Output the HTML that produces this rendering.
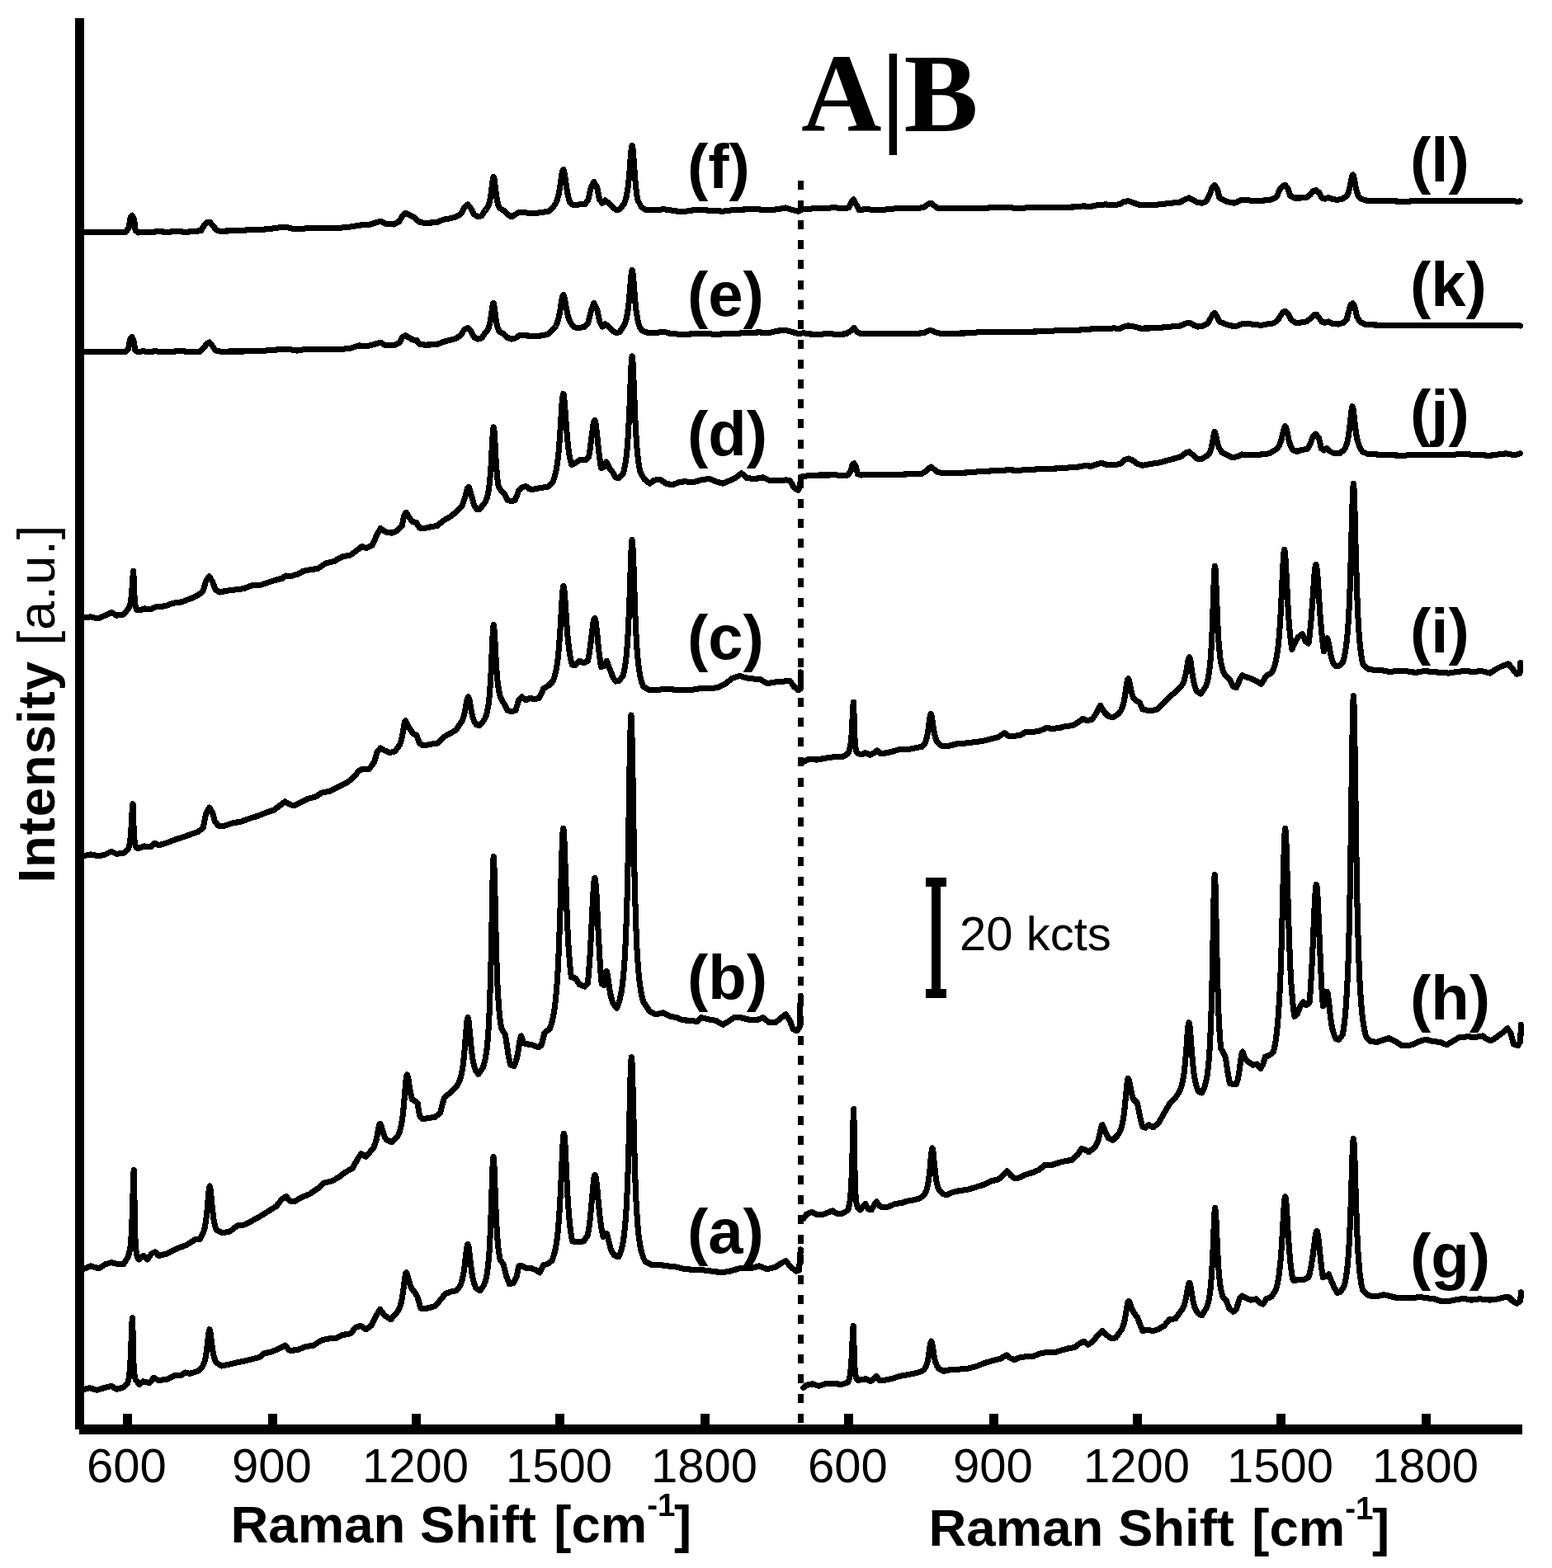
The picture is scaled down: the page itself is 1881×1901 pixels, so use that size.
<!DOCTYPE html>
<html lang="en">
<head>
<meta charset="utf-8">
<title>Raman spectra A|B</title>
<style>
html,body{margin:0;padding:0;background:#fff;}
body{width:1881px;height:1901px;overflow:hidden;position:relative;}
svg{position:absolute;left:0;top:0;display:block;}
text{fill:#000;}
.tk{font-family:"Liberation Sans",Arial,Helvetica,sans-serif;font-size:58px;text-anchor:middle;}
.ax{font-family:"Liberation Sans",Arial,Helvetica,sans-serif;font-size:63.5px;font-weight:bold;}
.lb{font-family:"Liberation Sans",Arial,Helvetica,sans-serif;font-size:76px;font-weight:bold;}
.tt{font-family:"Liberation Serif","Times New Roman",Times,serif;font-size:135px;font-weight:bold;}
.sp{fill:none;stroke:#000;stroke-width:7.1;stroke-linejoin:round;stroke-linecap:round;}
</style>
</head>
<body>
<svg width="1881" height="1901" viewBox="0 0 1881 1901">
<rect x="0" y="0" width="1881" height="1901" fill="#fff"/>
<g id="divider" shape-rendering="crispEdges" fill="#000">
<rect x="967" y="219" width="7" height="11"/><rect x="967" y="243" width="7" height="11"/><rect x="967" y="267" width="7" height="11"/><rect x="967" y="291" width="7" height="11"/><rect x="967" y="315" width="7" height="11"/><rect x="967" y="340" width="7" height="11"/><rect x="967" y="364" width="7" height="11"/><rect x="967" y="388" width="7" height="11"/><rect x="967" y="412" width="7" height="11"/><rect x="967" y="436" width="7" height="11"/><rect x="967" y="460" width="7" height="11"/><rect x="967" y="484" width="7" height="11"/><rect x="967" y="508" width="7" height="11"/><rect x="967" y="533" width="7" height="11"/><rect x="967" y="557" width="7" height="11"/><rect x="967" y="581" width="7" height="11"/><rect x="967" y="605" width="7" height="11"/><rect x="967" y="629" width="7" height="11"/><rect x="967" y="653" width="7" height="11"/><rect x="967" y="677" width="7" height="11"/><rect x="967" y="701" width="7" height="11"/><rect x="967" y="725" width="7" height="11"/><rect x="967" y="750" width="7" height="11"/><rect x="967" y="774" width="7" height="11"/><rect x="967" y="798" width="7" height="11"/><rect x="967" y="822" width="7" height="11"/><rect x="967" y="846" width="7" height="11"/><rect x="967" y="870" width="7" height="11"/><rect x="967" y="894" width="7" height="11"/><rect x="967" y="918" width="7" height="11"/><rect x="967" y="943" width="7" height="11"/><rect x="967" y="967" width="7" height="11"/><rect x="967" y="991" width="7" height="11"/><rect x="967" y="1015" width="7" height="11"/><rect x="967" y="1039" width="7" height="11"/><rect x="967" y="1063" width="7" height="11"/><rect x="967" y="1087" width="7" height="11"/><rect x="967" y="1111" width="7" height="11"/><rect x="967" y="1136" width="7" height="11"/><rect x="967" y="1160" width="7" height="11"/><rect x="967" y="1184" width="7" height="11"/><rect x="967" y="1208" width="7" height="11"/><rect x="967" y="1232" width="7" height="11"/><rect x="967" y="1256" width="7" height="11"/><rect x="967" y="1280" width="7" height="11"/><rect x="967" y="1304" width="7" height="11"/><rect x="967" y="1328" width="7" height="11"/><rect x="967" y="1353" width="7" height="11"/><rect x="967" y="1377" width="7" height="11"/><rect x="967" y="1401" width="7" height="11"/><rect x="967" y="1425" width="7" height="11"/><rect x="967" y="1449" width="7" height="11"/><rect x="967" y="1473" width="7" height="11"/><rect x="967" y="1497" width="7" height="11"/><rect x="967" y="1521" width="7" height="11"/><rect x="967" y="1546" width="7" height="11"/><rect x="967" y="1570" width="7" height="11"/><rect x="967" y="1594" width="7" height="11"/><rect x="967" y="1618" width="7" height="11"/><rect x="967" y="1642" width="7" height="11"/><rect x="967" y="1666" width="7" height="11"/><rect x="967" y="1690" width="7" height="11"/><rect x="967" y="1714" width="7" height="11"/>
</g>
<g id="spectra" shape-rendering="crispEdges">
<path class="sp" id="s-b" d="M100.0,1538.9 L110.0,1534.9 L120.0,1537.9 L127.5,1532.9 L135.0,1530.6 L143.7,1532.9 L150.0,1532.4 L154.5,1524.9 L155.0,1523.9 L155.5,1522.7 L156.0,1521.2 L156.5,1519.4 L157.0,1517.1 L157.6,1514.2 L158.1,1510.4 L158.6,1505.3 L159.1,1498.6 L159.6,1489.4 L160.1,1477.0 L160.7,1461.0 L161.2,1442.3 L161.7,1425.5 L162.2,1418.4 L162.8,1443.6 L163.3,1478.3 L163.8,1498.9 L164.4,1509.9 L164.9,1516.1 L165.5,1519.8 L166.0,1522.2 L166.5,1523.8 L167.1,1524.9 L167.6,1525.8 L168.2,1526.4 L168.7,1526.9 L173.7,1522.4 L178.7,1526.9 L183.7,1519.9 L188.0,1517.9 L192.4,1522.4 L202.4,1519.9 L214.9,1513.6 L226.2,1509.4 L236.2,1502.9 L242.4,1502.4 L246.2,1494.9 L246.7,1493.5 L247.2,1491.9 L247.8,1489.9 L248.3,1487.7 L248.8,1485.0 L249.4,1481.7 L249.9,1477.9 L250.4,1473.4 L251.0,1468.1 L251.5,1462.2 L252.0,1455.7 L252.6,1449.2 L253.1,1443.4 L253.6,1439.4 L254.2,1437.9 L254.7,1439.1 L255.2,1442.5 L255.7,1447.4 L256.2,1453.0 L256.7,1458.8 L257.3,1464.2 L257.8,1469.1 L258.3,1473.3 L258.8,1477.0 L259.3,1480.1 L259.8,1482.7 L260.4,1485.0 L260.9,1486.9 L261.4,1488.5 L261.9,1489.9 L262.4,1491.1 L269.9,1494.9 L278.7,1492.9 L287.4,1486.1 L296.1,1484.9 L304.9,1480.4 L314.9,1474.9 L324.9,1468.6 L334.9,1462.4 L341.1,1454.4 L346.6,1450.4 L351.6,1456.1 L357.4,1456.4 L364.9,1451.9 L374.9,1447.9 L384.9,1441.1 L392.3,1434.2 L402.3,1431.9 L412.3,1426.2 L417.3,1421.9 L427.3,1416.2 L433.6,1404.9 L437.8,1398.7 L443.6,1402.4 L449.8,1394.9 L450.3,1394.4 L450.8,1393.9 L451.4,1393.3 L451.9,1392.6 L452.4,1391.8 L452.9,1390.9 L453.4,1389.8 L453.9,1388.6 L454.4,1387.3 L454.9,1385.7 L455.4,1384.0 L456.0,1382.0 L456.5,1379.7 L457.0,1377.2 L457.5,1374.6 L458.0,1371.8 L458.5,1369.0 L459.0,1366.4 L459.5,1364.3 L460.1,1362.9 L460.6,1362.4 L461.1,1362.8 L461.6,1363.8 L462.2,1365.3 L462.7,1367.1 L463.2,1369.1 L463.8,1371.1 L464.3,1372.9 L464.8,1374.6 L465.4,1376.1 L465.9,1377.4 L466.4,1378.6 L467.0,1379.6 L467.5,1380.5 L468.0,1381.3 L468.6,1381.9 L474.8,1384.9 L482.3,1376.9 L482.8,1375.9 L483.4,1374.7 L483.9,1373.3 L484.4,1371.7 L484.9,1370.0 L485.4,1368.0 L486.0,1365.7 L486.5,1363.1 L487.0,1360.0 L487.5,1356.6 L488.1,1352.6 L488.6,1348.1 L489.1,1343.1 L489.6,1337.4 L490.2,1331.3 L490.7,1324.8 L491.2,1318.3 L491.7,1312.3 L492.3,1307.4 L492.8,1304.1 L493.3,1303.0 L493.8,1303.6 L494.4,1305.5 L494.9,1308.3 L495.5,1311.7 L496.0,1315.3 L496.6,1318.9 L497.1,1322.2 L497.7,1325.3 L498.2,1328.0 L498.8,1330.4 L499.3,1332.5 L506.0,1337.0 L508.5,1352.4 L512.3,1356.9 L519.8,1355.4 L527.3,1354.4 L533.5,1349.2 L538.5,1330.5 L544.8,1325.5 L552.3,1318.0 L552.8,1317.4 L553.3,1316.9 L553.8,1316.2 L554.3,1315.5 L554.8,1314.8 L555.3,1313.9 L555.8,1313.0 L556.3,1311.9 L556.8,1310.7 L557.3,1309.3 L557.8,1307.8 L558.4,1306.1 L558.9,1304.2 L559.4,1301.9 L559.9,1299.4 L560.4,1296.5 L560.9,1293.2 L561.4,1289.5 L561.9,1285.2 L562.4,1280.4 L562.9,1275.0 L563.4,1269.0 L563.9,1262.5 L564.4,1255.8 L565.0,1249.2 L565.5,1243.0 L566.0,1238.0 L566.5,1234.7 L567.0,1233.6 L567.5,1234.6 L568.0,1237.5 L568.5,1241.8 L569.0,1247.2 L569.5,1252.9 L570.1,1258.7 L570.6,1264.3 L571.1,1269.4 L571.6,1274.0 L572.1,1278.1 L572.6,1281.8 L573.1,1285.0 L573.7,1287.8 L574.2,1290.2 L574.7,1292.3 L575.2,1294.2 L575.7,1295.8 L576.2,1297.3 L580.0,1302.3 L585.0,1294.8 L585.5,1293.5 L586.0,1292.1 L586.5,1290.5 L587.0,1288.6 L587.5,1286.6 L588.0,1284.3 L588.5,1281.7 L589.0,1278.7 L589.6,1275.2 L590.1,1271.2 L590.6,1266.5 L591.1,1261.1 L591.6,1254.7 L592.1,1247.1 L592.6,1238.2 L593.1,1227.5 L593.6,1214.8 L594.1,1199.6 L594.7,1181.6 L595.2,1160.7 L595.7,1136.8 L596.2,1110.8 L596.7,1084.5 L597.2,1061.1 L597.7,1044.6 L598.2,1038.7 L598.7,1043.9 L599.2,1058.2 L599.8,1078.4 L600.3,1101.1 L600.8,1123.5 L601.3,1144.1 L601.8,1162.0 L602.3,1177.4 L602.8,1190.4 L603.3,1201.3 L603.9,1210.3 L604.4,1218.0 L604.9,1224.4 L605.4,1229.8 L605.9,1234.5 L606.4,1238.4 L606.9,1241.8 L607.4,1244.7 L608.0,1247.3 L612.5,1254.8 L616.2,1279.8 L618.7,1291.0 L623.0,1292.3 L623.5,1291.3 L624.0,1290.2 L624.5,1289.0 L625.0,1287.6 L625.5,1286.0 L626.0,1284.1 L626.6,1282.0 L627.1,1279.6 L627.6,1276.9 L628.1,1273.9 L628.6,1270.7 L629.1,1267.3 L629.6,1264.0 L630.2,1260.9 L630.7,1258.3 L631.2,1256.6 L631.7,1256.0 L634.9,1264.8 L639.9,1266.0 L644.9,1266.8 L652.4,1269.8 L656.2,1267.3 L659.9,1252.3 L666.2,1247.3 L666.7,1246.1 L667.2,1244.7 L667.7,1243.2 L668.2,1241.6 L668.8,1239.9 L669.3,1237.9 L669.8,1235.8 L670.3,1233.4 L670.8,1230.8 L671.3,1227.8 L671.9,1224.6 L672.4,1220.9 L672.9,1216.8 L673.4,1212.2 L673.9,1207.1 L674.4,1201.2 L674.9,1194.6 L675.5,1187.0 L676.0,1178.5 L676.5,1168.8 L677.0,1157.9 L677.5,1145.5 L678.0,1131.6 L678.6,1116.3 L679.1,1099.5 L679.6,1081.7 L680.1,1063.4 L680.6,1045.4 L681.1,1029.2 L681.6,1016.0 L682.2,1007.4 L682.7,1004.4 L683.2,1007.0 L683.7,1014.2 L684.2,1025.3 L684.7,1039.1 L685.2,1054.2 L685.8,1069.7 L686.3,1084.8 L686.8,1099.1 L687.3,1112.1 L687.8,1123.9 L688.3,1134.5 L688.8,1143.8 L689.3,1152.1 L689.9,1159.4 L690.4,1165.8 L690.9,1171.5 L691.4,1176.5 L691.9,1180.9 L692.4,1184.8 L697.4,1186.1 L702.4,1193.6 L708.7,1196.1 L712.4,1192.3 L712.9,1186.7 L713.5,1180.5 L714.0,1173.6 L714.5,1166.0 L715.1,1157.7 L715.6,1148.6 L716.1,1138.8 L716.7,1128.4 L717.2,1117.6 L717.7,1106.6 L718.2,1095.8 L718.8,1085.7 L719.3,1077.0 L719.8,1070.2 L720.4,1065.9 L720.9,1064.4 L721.4,1065.8 L721.9,1070.0 L722.5,1076.6 L723.0,1085.1 L723.5,1094.9 L724.0,1105.5 L724.5,1116.3 L725.0,1127.2 L725.5,1137.6 L726.1,1147.5 L726.6,1156.7 L727.1,1165.2 L727.6,1173.0 L728.1,1180.1 L728.6,1186.5 L729.2,1192.3 L731.9,1194.8 L732.5,1189.9 L733.1,1185.2 L733.7,1181.1 L734.3,1178.3 L734.9,1177.3 L735.4,1178.0 L735.9,1179.8 L736.4,1182.7 L737.0,1186.1 L737.5,1189.8 L738.0,1193.5 L738.5,1197.1 L739.0,1200.4 L739.5,1203.3 L740.0,1206.0 L740.6,1208.3 L741.1,1210.4 L741.6,1212.1 L742.1,1213.7 L742.6,1215.1 L743.1,1216.3 L743.6,1217.3 L747.4,1222.3 L747.9,1221.2 L748.4,1220.1 L748.9,1218.8 L749.4,1217.4 L750.0,1215.8 L750.5,1214.1 L751.0,1212.3 L751.5,1210.2 L752.0,1207.9 L752.5,1205.4 L753.1,1202.5 L753.6,1199.4 L754.1,1195.8 L754.6,1191.8 L755.1,1187.3 L755.6,1182.1 L756.1,1176.2 L756.7,1169.5 L757.2,1161.7 L757.7,1152.8 L758.2,1142.4 L758.7,1130.3 L759.2,1116.3 L759.7,1100.0 L760.3,1081.1 L760.8,1059.3 L761.3,1034.4 L761.8,1006.5 L762.3,976.4 L762.8,945.2 L763.3,915.4 L763.9,890.2 L764.4,873.1 L764.9,867.0 L765.4,873.1 L765.9,890.3 L766.4,915.7 L767.0,945.6 L767.5,976.8 L768.0,1006.9 L768.5,1034.7 L769.0,1059.5 L769.5,1081.2 L770.1,1100.1 L770.6,1116.3 L771.1,1130.2 L771.6,1142.1 L772.1,1152.4 L772.6,1161.3 L773.2,1169.0 L773.7,1175.6 L774.2,1181.5 L774.7,1186.6 L775.2,1191.1 L775.7,1195.0 L776.3,1198.6 L776.8,1201.7 L777.3,1204.5 L777.8,1207.0 L778.3,1209.3 L778.8,1211.3 L779.4,1213.1 L779.9,1214.8 L787.4,1226.1 L794.9,1229.8 L803.6,1227.8 L812.4,1232.3 L819.9,1233.6 L827.4,1236.8 L837.3,1237.3 L844.8,1238.6 L849.8,1233.6 L859.8,1236.1 L867.3,1237.3 L876.1,1242.3 L882.3,1238.6 L889.8,1233.6 L897.3,1233.6 L907.3,1236.1 L917.3,1236.8 L924.8,1233.6 L932.3,1239.8 L939.8,1239.8 L947.3,1233.6 L952.3,1229.8 L957.3,1237.3 L961.0,1247.3 L966.0,1249.8 L969.3,1244.8 L970.3,1207.3"/>
<path class="sp" id="s-a" d="M100.0,1684.8 L108.7,1682.8 L117.5,1685.3 L127.5,1682.3 L135.0,1680.3 L141.2,1684.3 L148.7,1682.3 L154.5,1677.3 L155.0,1675.6 L155.6,1673.5 L156.1,1670.8 L156.6,1667.1 L157.2,1662.1 L157.7,1655.2 L158.3,1645.8 L158.8,1633.2 L159.4,1618.1 L159.9,1603.9 L160.5,1597.8 L161.0,1614.8 L161.5,1639.2 L162.0,1654.2 L162.6,1662.3 L163.1,1667.0 L163.6,1669.8 L164.1,1671.6 L164.6,1672.8 L165.2,1673.7 L165.7,1674.3 L166.2,1674.8 L168.7,1678.5 L173.7,1674.8 L181.2,1676.8 L186.2,1670.3 L192.4,1673.5 L202.4,1672.3 L211.2,1667.8 L219.9,1667.3 L224.4,1664.0 L229.9,1665.3 L239.9,1662.3 L244.9,1657.3 L245.5,1656.5 L246.0,1655.6 L246.5,1654.5 L247.0,1653.2 L247.6,1651.7 L248.1,1650.0 L248.6,1647.9 L249.2,1645.4 L249.7,1642.4 L250.2,1638.9 L250.7,1634.9 L251.3,1630.3 L251.8,1625.4 L252.3,1620.4 L252.9,1616.0 L253.4,1612.9 L253.9,1611.8 L254.4,1612.8 L255.0,1615.5 L255.5,1619.3 L256.0,1623.7 L256.6,1628.2 L257.1,1632.3 L257.6,1636.0 L258.2,1639.2 L258.7,1641.9 L259.2,1644.2 L259.8,1646.2 L260.3,1647.8 L260.8,1649.2 L261.4,1650.4 L261.9,1651.4 L262.4,1652.3 L268.7,1656.0 L277.4,1654.3 L287.4,1651.8 L297.4,1649.8 L307.4,1647.3 L314.9,1645.3 L319.9,1641.0 L329.9,1638.6 L339.9,1634.3 L345.4,1631.1 L351.1,1637.3 L359.9,1636.8 L369.9,1632.8 L379.9,1631.1 L389.9,1624.8 L399.8,1622.8 L407.3,1622.3 L414.8,1618.6 L424.8,1616.8 L431.1,1609.3 L437.3,1607.3 L443.6,1611.8 L449.8,1607.3 L456.1,1594.8 L460.6,1587.3 L466.1,1594.8 L473.6,1599.8 L479.8,1592.3 L480.3,1591.8 L480.8,1591.3 L481.4,1590.6 L481.9,1589.9 L482.4,1589.2 L482.9,1588.3 L483.4,1587.3 L484.0,1586.1 L484.5,1584.8 L485.0,1583.3 L485.5,1581.6 L486.1,1579.6 L486.6,1577.4 L487.1,1574.8 L487.6,1571.9 L488.1,1568.6 L488.7,1565.0 L489.2,1561.0 L489.7,1556.9 L490.2,1552.7 L490.7,1548.9 L491.3,1545.7 L491.8,1543.6 L492.3,1542.8 L492.8,1543.2 L493.4,1544.3 L493.9,1545.9 L494.4,1547.9 L494.9,1550.0 L495.5,1552.1 L496.0,1554.1 L496.5,1555.9 L497.0,1557.5 L497.6,1559.0 L498.1,1560.3 L498.6,1561.4 L499.1,1562.4 L499.7,1563.2 L500.2,1563.9 L500.7,1564.6 L501.2,1565.2 L501.8,1565.6 L502.3,1566.1 L506.0,1572.3 L509.8,1586.1 L514.8,1586.8 L521.0,1585.3 L527.3,1583.6 L534.8,1574.8 L539.8,1568.6 L546.0,1566.1 L552.3,1564.8 L552.8,1564.5 L553.3,1564.1 L553.8,1563.7 L554.3,1563.2 L554.8,1562.7 L555.3,1562.1 L555.8,1561.5 L556.3,1560.8 L556.8,1560.0 L557.3,1559.1 L557.8,1558.1 L558.4,1556.9 L558.9,1555.6 L559.4,1554.2 L559.9,1552.5 L560.4,1550.6 L560.9,1548.4 L561.4,1545.9 L561.9,1543.0 L562.4,1539.8 L562.9,1536.2 L563.4,1532.2 L563.9,1527.9 L564.4,1523.4 L565.0,1519.0 L565.5,1514.9 L566.0,1511.6 L566.5,1509.4 L567.0,1508.6 L567.5,1509.5 L568.0,1511.9 L568.6,1515.6 L569.1,1520.0 L569.6,1524.8 L570.1,1529.5 L570.7,1534.0 L571.2,1538.2 L571.7,1542.0 L572.2,1545.3 L572.8,1548.2 L573.3,1550.7 L573.8,1552.9 L574.3,1554.9 L574.9,1556.5 L575.4,1558.0 L575.9,1559.3 L576.4,1560.5 L577.0,1561.5 L577.5,1562.3 L581.7,1564.8 L586.2,1558.6 L586.7,1557.5 L587.2,1556.2 L587.8,1554.8 L588.3,1553.2 L588.8,1551.3 L589.3,1549.2 L589.8,1546.7 L590.3,1543.8 L590.8,1540.5 L591.3,1536.5 L591.8,1531.8 L592.3,1526.3 L592.9,1519.7 L593.4,1511.8 L593.9,1502.4 L594.4,1491.3 L594.9,1478.3 L595.4,1463.4 L595.9,1447.3 L596.4,1431.0 L596.9,1416.4 L597.5,1406.2 L598.0,1402.4 L598.5,1405.7 L599.0,1414.7 L599.5,1427.5 L600.0,1441.7 L600.5,1455.8 L601.1,1468.6 L601.6,1479.8 L602.1,1489.4 L602.6,1497.5 L603.1,1504.3 L603.6,1509.9 L604.2,1514.7 L604.7,1518.7 L605.2,1522.0 L605.7,1524.9 L606.2,1527.4 L610.0,1532.4 L613.7,1547.3 L617.5,1556.8 L622.5,1555.3 L626.2,1547.3 L628.7,1534.9 L632.4,1534.4 L637.4,1537.4 L644.9,1537.9 L649.9,1539.9 L654.2,1542.8 L658.7,1533.6 L663.7,1532.4 L668.7,1528.6 L669.2,1527.5 L669.7,1526.4 L670.2,1525.1 L670.7,1523.7 L671.2,1522.1 L671.7,1520.3 L672.2,1518.4 L672.7,1516.3 L673.3,1513.8 L673.8,1511.2 L674.3,1508.1 L674.8,1504.7 L675.3,1500.9 L675.8,1496.5 L676.3,1491.6 L676.8,1486.0 L677.3,1479.7 L677.8,1472.5 L678.3,1464.5 L678.8,1455.5 L679.4,1445.6 L679.9,1434.8 L680.4,1423.3 L680.9,1411.6 L681.4,1400.2 L681.9,1389.8 L682.4,1381.5 L682.9,1376.1 L683.4,1374.2 L683.9,1376.0 L684.4,1381.1 L685.0,1389.0 L685.5,1398.7 L686.0,1409.5 L686.5,1420.5 L687.0,1431.3 L687.5,1441.4 L688.0,1450.7 L688.5,1459.0 L689.1,1466.5 L689.6,1473.2 L690.1,1479.1 L690.6,1484.2 L691.1,1488.8 L691.6,1492.9 L692.1,1496.4 L692.6,1499.6 L693.2,1502.4 L693.7,1504.9 L699.9,1505.6 L707.4,1504.9 L712.4,1497.4 L712.9,1494.5 L713.4,1491.3 L714.0,1487.7 L714.5,1483.8 L715.0,1479.5 L715.5,1474.8 L716.0,1469.8 L716.5,1464.3 L717.0,1458.6 L717.6,1452.7 L718.1,1446.7 L718.6,1440.9 L719.1,1435.5 L719.6,1430.8 L720.1,1427.2 L720.6,1424.9 L721.2,1424.2 L721.7,1424.9 L722.2,1427.2 L722.7,1430.8 L723.3,1435.4 L723.8,1440.8 L724.3,1446.5 L724.8,1452.3 L725.4,1458.1 L725.9,1463.7 L726.4,1468.9 L726.9,1473.8 L727.5,1478.3 L728.0,1482.4 L728.5,1486.1 L729.0,1489.4 L729.6,1492.5 L730.1,1495.2 L730.6,1497.6 L731.1,1499.9 L734.9,1495.4 L735.4,1495.8 L735.9,1496.9 L736.4,1498.7 L736.9,1500.8 L737.5,1503.1 L738.0,1505.5 L738.5,1507.7 L739.0,1509.8 L739.5,1511.7 L740.0,1513.3 L740.5,1514.8 L741.0,1516.1 L741.5,1517.2 L742.1,1518.2 L742.6,1519.1 L743.1,1519.8 L743.6,1520.5 L744.1,1521.1 L744.6,1521.6 L745.1,1522.1 L745.6,1522.5 L746.1,1522.9 L749.9,1523.6 L750.4,1522.6 L750.9,1521.4 L751.4,1520.1 L752.0,1518.7 L752.5,1517.1 L753.0,1515.4 L753.5,1513.5 L754.0,1511.3 L754.5,1508.8 L755.1,1506.1 L755.6,1503.0 L756.1,1499.4 L756.6,1495.4 L757.1,1490.7 L757.6,1485.4 L758.2,1479.3 L758.7,1472.1 L759.2,1463.9 L759.7,1454.2 L760.2,1443.0 L760.7,1429.9 L761.3,1414.9 L761.8,1397.7 L762.3,1378.5 L762.8,1357.6 L763.3,1336.0 L763.8,1315.4 L764.3,1297.9 L764.9,1286.0 L765.4,1281.7 L765.9,1286.0 L766.4,1298.0 L766.9,1315.7 L767.4,1336.6 L768.0,1358.4 L768.5,1379.6 L769.0,1399.1 L769.5,1416.5 L770.0,1431.8 L770.5,1445.0 L771.0,1456.5 L771.6,1466.3 L772.1,1474.7 L772.6,1482.0 L773.1,1488.2 L773.6,1493.6 L774.1,1498.4 L774.7,1502.5 L775.2,1506.1 L775.7,1509.3 L776.2,1512.1 L776.7,1514.6 L777.2,1516.8 L777.7,1518.8 L778.3,1520.5 L778.8,1522.1 L779.3,1523.6 L779.8,1524.9 L780.3,1526.1 L780.8,1527.1 L781.3,1528.1 L781.9,1529.0 L782.4,1529.9 L789.9,1533.6 L799.9,1533.6 L809.9,1534.9 L819.9,1536.1 L829.9,1538.6 L842.3,1539.4 L852.3,1539.9 L862.3,1541.1 L874.8,1542.8 L884.8,1541.1 L897.3,1537.4 L909.8,1537.9 L919.8,1534.9 L929.8,1538.6 L939.8,1536.1 L947.3,1531.1 L952.3,1528.6 L958.5,1536.1 L964.8,1541.1 L968.5,1539.9 L970.3,1514.9"/>
<path class="sp" id="s-d" d="M100.0,748.7 L110.0,747.9 L118.7,749.9 L127.5,746.2 L135.0,742.4 L141.2,746.2 L150.0,744.9 L155.0,738.7 L155.5,738.1 L156.0,737.3 L156.5,736.3 L157.0,735.0 L157.6,733.3 L158.1,731.1 L158.6,728.1 L159.1,724.0 L159.6,718.5 L160.2,711.4 L160.7,703.1 L161.2,695.6 L161.7,692.5 L162.3,704.1 L162.8,719.7 L163.4,728.8 L163.9,733.5 L164.5,736.2 L165.0,737.8 L165.6,738.8 L166.2,739.5 L166.7,739.9 L170.0,739.9 L175.0,737.9 L182.5,738.7 L190.0,735.4 L199.9,734.9 L209.9,731.2 L219.9,729.9 L229.9,726.2 L239.9,721.9 L246.2,716.2 L249.9,703.7 L253.7,698.7 L257.4,705.0 L261.2,715.0 L266.2,718.0 L274.9,716.2 L284.9,715.0 L294.9,713.7 L304.9,710.0 L314.9,709.5 L324.9,706.2 L334.9,703.0 L342.4,701.2 L346.1,698.0 L352.4,698.7 L362.4,695.5 L367.4,692.5 L377.4,690.5 L384.9,689.5 L394.8,683.0 L404.8,680.5 L414.8,675.0 L424.8,673.0 L432.3,667.5 L438.6,662.5 L443.6,664.5 L451.1,661.2 L456.1,650.0 L461.1,640.5 L467.3,645.0 L474.8,646.2 L481.1,643.7 L487.3,637.5 L489.8,625.0 L492.3,621.2 L496.0,627.5 L499.8,632.5 L504.8,633.7 L508.5,640.0 L514.8,640.5 L522.3,638.7 L529.8,637.5 L530.0,637.4 L537.5,631.1 L545.0,626.9 L552.5,621.1 L560.0,613.6 L563.7,602.4 L566.2,592.4 L568.2,590.4 L571.2,599.9 L574.5,612.4 L578.0,617.4 L581.2,617.9 L586.2,611.1 L586.7,610.5 L587.3,609.8 L587.8,609.0 L588.3,608.0 L588.8,607.0 L589.4,605.7 L589.9,604.3 L590.4,602.6 L590.9,600.7 L591.4,598.4 L592.0,595.7 L592.5,592.5 L593.0,588.6 L593.5,584.0 L594.0,578.4 L594.6,571.9 L595.1,564.1 L595.6,555.2 L596.1,545.5 L596.7,535.5 L597.2,526.6 L597.7,520.3 L598.2,517.9 L598.8,520.3 L599.3,526.8 L599.9,535.8 L600.4,545.7 L600.9,555.1 L601.5,563.7 L602.0,571.0 L602.6,577.1 L603.1,582.2 L603.7,586.4 L604.2,589.9 L607.5,594.9 L611.2,598.7 L615.0,606.1 L620.0,607.9 L624.5,606.1 L628.7,594.9 L632.4,591.2 L637.4,589.4 L641.2,592.4 L644.9,593.7 L649.9,592.4 L657.4,591.2 L664.9,589.9 L668.7,586.2 L669.2,585.3 L669.7,584.3 L670.2,583.2 L670.8,582.0 L671.3,580.7 L671.8,579.2 L672.3,577.5 L672.8,575.6 L673.3,573.5 L673.9,571.1 L674.4,568.5 L674.9,565.4 L675.4,562.0 L675.9,558.0 L676.5,553.6 L677.0,548.6 L677.5,542.9 L678.0,536.5 L678.5,529.4 L679.0,521.6 L679.6,513.4 L680.1,504.9 L680.6,496.6 L681.1,489.0 L681.6,482.9 L682.2,478.9 L682.7,477.5 L683.2,478.6 L683.7,482.0 L684.2,487.2 L684.7,493.7 L685.2,500.8 L685.7,508.0 L686.3,515.1 L686.8,521.8 L687.3,527.9 L687.8,533.4 L688.3,538.4 L688.8,542.8 L689.3,546.6 L689.8,550.1 L690.4,553.1 L690.9,555.7 L691.4,558.1 L691.9,560.2 L692.4,562.0 L692.9,563.7 L697.4,561.2 L702.4,557.9 L709.9,557.4 L713.7,553.7 L714.2,550.6 L714.7,547.3 L715.3,543.7 L715.8,539.7 L716.3,535.5 L716.9,531.1 L717.4,526.7 L718.0,522.3 L718.5,518.2 L719.0,514.6 L719.6,511.8 L720.1,510.1 L720.7,509.4 L721.2,510.2 L721.7,512.2 L722.3,515.5 L722.8,519.6 L723.3,524.4 L723.9,529.5 L724.4,534.7 L724.9,539.9 L725.5,544.8 L726.0,549.4 L726.5,553.7 L727.1,557.6 L727.6,561.2 L728.1,564.5 L728.7,567.4 L731.9,566.2 L734.9,559.9 L738.6,567.4 L742.4,572.4 L746.1,578.7 L749.9,579.9 L754.9,574.9 L755.4,573.4 L755.9,571.6 L756.4,569.6 L756.9,567.4 L757.4,564.8 L758.0,561.9 L758.5,558.5 L759.0,554.7 L759.5,550.2 L760.0,545.0 L760.5,538.9 L761.0,531.8 L761.5,523.7 L762.0,514.3 L762.6,503.5 L763.1,491.6 L763.6,478.7 L764.1,465.3 L764.6,452.6 L765.1,441.9 L765.6,434.6 L766.1,432.0 L766.7,434.8 L767.2,442.5 L767.7,453.9 L768.2,467.3 L768.8,481.2 L769.3,494.5 L769.8,506.7 L770.3,517.6 L770.9,527.0 L771.4,535.2 L771.9,542.2 L772.4,548.2 L773.0,553.4 L773.5,557.8 L774.0,561.6 L774.5,564.9 L775.1,567.7 L775.6,570.2 L776.1,572.4 L781.1,581.2 L787.4,586.2 L792.4,582.4 L799.9,581.2 L807.4,586.2 L814.9,587.9 L822.4,584.9 L829.9,583.7 L839.8,584.9 L849.8,581.9 L859.8,580.4 L867.3,583.7 L876.1,586.2 L884.8,582.4 L892.3,578.7 L898.6,573.7 L904.8,579.4 L912.3,580.4 L919.8,579.9 L924.8,578.7 L932.3,582.4 L942.3,582.9 L952.3,581.9 L957.3,582.4 L962.3,591.2 L967.3,594.4 L969.8,589.9 L970.3,578.7"/>
<path class="sp" id="s-c" d="M100.0,1037.8 L110.0,1036.0 L120.0,1037.8 L127.5,1036.0 L135.0,1032.3 L141.2,1035.3 L150.0,1034.3 L155.0,1029.8 L155.5,1028.7 L156.1,1027.2 L156.6,1025.3 L157.1,1022.7 L157.7,1019.3 L158.2,1014.5 L158.8,1008.0 L159.3,999.3 L159.9,988.8 L160.4,979.0 L161.0,974.8 L161.5,987.7 L162.1,1005.2 L162.6,1015.4 L163.2,1020.8 L163.7,1023.8 L164.3,1025.7 L164.8,1026.8 L165.4,1027.6 L165.9,1028.1 L166.5,1028.5 L170.0,1027.8 L175.0,1026.0 L182.5,1026.8 L187.5,1022.3 L192.4,1024.8 L202.4,1021.8 L212.4,1017.8 L222.4,1014.8 L232.4,1011.1 L239.9,1008.6 L246.2,1003.6 L249.4,987.3 L253.7,979.1 L257.4,984.8 L260.4,996.1 L264.9,1001.1 L272.4,1001.1 L282.4,997.8 L292.4,996.1 L302.4,992.3 L312.4,989.3 L322.4,985.3 L332.4,981.8 L339.9,976.1 L345.4,971.8 L351.1,975.3 L356.1,976.8 L364.9,972.8 L372.4,968.6 L382.4,966.1 L389.9,961.1 L399.8,959.3 L409.8,954.3 L419.8,949.3 L427.3,943.6 L434.8,934.8 L439.8,932.3 L447.3,932.8 L453.6,923.6 L457.3,911.1 L461.1,906.9 L466.1,909.9 L472.3,912.4 L478.6,911.1 L484.8,902.4 L485.3,900.9 L485.8,899.2 L486.4,897.3 L486.9,895.2 L487.4,892.7 L487.9,890.0 L488.4,887.1 L489.0,884.0 L489.5,880.9 L490.0,878.1 L490.5,875.7 L491.0,874.2 L491.5,873.6 L496.0,882.4 L501.0,889.9 L504.8,891.1 L508.5,901.1 L512.3,903.6 L519.8,902.9 L527.3,901.1 L530.0,901.1 L537.5,893.6 L545.0,889.4 L552.5,885.4 L558.7,876.1 L559.3,875.3 L559.8,874.4 L560.3,873.3 L560.8,872.1 L561.3,870.7 L561.8,869.1 L562.3,867.3 L562.9,865.2 L563.4,862.9 L563.9,860.3 L564.4,857.5 L564.9,854.6 L565.4,851.7 L565.9,849.0 L566.5,846.9 L567.0,845.4 L567.5,844.9 L568.0,845.4 L568.5,847.0 L569.1,849.3 L569.6,852.2 L570.1,855.2 L570.6,858.3 L571.2,861.2 L571.7,863.8 L572.2,866.2 L572.7,868.3 L573.3,870.2 L573.8,871.8 L574.3,873.2 L574.8,874.4 L575.4,875.5 L575.9,876.4 L576.4,877.3 L577.0,878.0 L577.5,878.6 L581.2,879.9 L586.2,873.6 L586.7,872.8 L587.3,871.9 L587.8,870.9 L588.3,869.7 L588.8,868.4 L589.4,866.9 L589.9,865.1 L590.4,863.0 L590.9,860.6 L591.4,857.7 L592.0,854.3 L592.5,850.3 L593.0,845.5 L593.5,839.8 L594.0,832.9 L594.6,824.6 L595.1,815.0 L595.6,803.9 L596.1,791.8 L596.7,779.4 L597.2,768.2 L597.7,760.3 L598.2,757.4 L598.7,759.7 L599.2,766.0 L599.8,774.8 L600.3,784.7 L600.8,794.5 L601.3,803.5 L601.8,811.3 L602.3,818.0 L602.8,823.7 L603.4,828.4 L603.9,832.4 L604.4,835.7 L604.9,838.5 L605.4,840.9 L605.9,842.9 L606.4,844.6 L606.9,846.1 L607.5,847.4 L611.2,853.6 L615.0,861.1 L620.0,862.9 L625.0,861.1 L628.7,848.6 L632.4,844.9 L637.4,848.6 L642.4,846.1 L647.4,847.9 L653.7,846.1 L658.7,834.9 L664.9,831.1 L669.9,826.1 L670.4,825.0 L671.0,823.7 L671.5,822.2 L672.0,820.6 L672.5,818.8 L673.0,816.8 L673.6,814.5 L674.1,812.0 L674.6,809.1 L675.1,805.8 L675.6,802.1 L676.2,797.8 L676.7,793.0 L677.2,787.6 L677.7,781.4 L678.2,774.5 L678.8,766.8 L679.3,758.4 L679.8,749.5 L680.3,740.3 L680.8,731.2 L681.4,723.0 L681.9,716.3 L682.4,712.0 L682.9,710.5 L683.4,711.7 L683.9,715.4 L684.5,721.1 L685.0,728.1 L685.5,735.9 L686.0,743.8 L686.5,751.5 L687.0,758.8 L687.5,765.5 L688.0,771.5 L688.6,776.9 L689.1,781.7 L689.6,785.9 L690.1,789.7 L690.6,793.0 L691.1,795.9 L691.6,798.5 L692.1,800.7 L692.6,802.8 L693.2,804.6 L693.7,806.2 L697.4,806.2 L702.4,801.2 L707.4,803.7 L712.4,801.2 L712.9,798.8 L713.4,796.2 L714.0,793.3 L714.5,790.2 L715.0,786.7 L715.5,783.0 L716.0,779.0 L716.5,774.8 L717.0,770.4 L717.6,766.0 L718.1,761.8 L718.6,757.8 L719.1,754.4 L719.6,751.7 L720.1,750.0 L720.7,749.4 L721.2,750.2 L721.7,752.3 L722.3,755.6 L722.8,759.8 L723.3,764.7 L723.9,769.9 L724.4,775.3 L724.9,780.5 L725.5,785.5 L726.0,790.3 L726.5,794.7 L727.1,798.7 L727.6,802.3 L728.1,805.7 L728.7,808.7 L732.4,807.4 L735.4,801.2 L738.6,809.9 L742.4,819.9 L746.1,826.1 L749.9,825.4 L754.9,819.9 L755.4,818.1 L755.9,816.1 L756.4,813.8 L756.9,811.2 L757.4,808.2 L758.0,804.9 L758.5,801.0 L759.0,796.5 L759.5,791.3 L760.0,785.2 L760.5,778.2 L761.0,770.0 L761.5,760.6 L762.0,749.7 L762.6,737.3 L763.1,723.5 L763.6,708.5 L764.1,693.1 L764.6,678.4 L765.1,665.9 L765.6,657.5 L766.1,654.5 L766.6,657.6 L767.1,666.2 L767.7,679.0 L768.2,694.2 L768.7,710.1 L769.2,725.6 L769.7,739.9 L770.2,752.7 L770.7,764.0 L771.2,773.8 L771.7,782.3 L772.2,789.5 L772.7,795.8 L773.3,801.2 L773.8,805.9 L774.3,810.0 L774.8,813.5 L775.3,816.6 L775.8,819.3 L776.3,821.7 L776.8,823.8 L777.3,825.6 L777.8,827.3 L778.3,828.8 L778.9,830.1 L779.4,831.3 L779.9,832.4 L787.4,836.9 L794.9,836.9 L804.9,835.4 L817.4,836.1 L827.4,836.9 L839.8,836.1 L849.8,834.4 L859.8,834.9 L869.8,833.6 L879.8,828.6 L887.3,822.4 L896.1,819.4 L904.8,821.9 L912.3,822.9 L921.1,823.6 L929.8,828.6 L939.8,826.9 L949.8,826.1 L957.3,825.4 L962.3,832.4 L967.3,836.9 L970.3,834.9 L970.3,814.9"/>
<path class="sp" id="s-f" d="M100.0,281.5 L115.0,281.5 L135.0,281.2 L152.5,281.2 L156.2,275.7 L158.2,263.2 L160.2,261.2 L162.5,265.7 L164.2,279.5 L167.5,282.0 L175.0,281.2 L185.0,281.5 L190.0,280.7 L202.4,281.2 L214.9,280.7 L224.9,281.2 L234.9,280.7 L243.7,279.5 L247.4,273.2 L251.2,269.5 L254.4,269.2 L257.9,273.2 L261.9,278.7 L266.2,280.2 L279.9,279.9 L289.9,279.4 L302.4,278.8 L314.9,278.5 L327.4,277.5 L337.4,276.0 L347.4,275.4 L354.9,277.4 L364.9,277.4 L377.4,276.3 L389.9,276.3 L402.3,276.7 L414.8,276.0 L427.3,274.7 L434.8,273.1 L447.3,272.6 L454.8,270.1 L461.1,268.1 L467.3,271.3 L477.3,272.0 L483.6,268.7 L487.3,262.5 L491.5,258.2 L496.0,260.5 L502.3,263.7 L508.5,269.4 L514.8,270.4 L524.8,269.9 L530.0,269.4 L537.5,266.2 L545.0,264.9 L552.5,262.9 L558.7,259.4 L562.5,252.4 L567.0,247.9 L570.5,252.4 L574.5,259.9 L578.7,262.4 L583.7,261.9 L588.0,254.9 L588.5,254.5 L589.0,254.0 L589.5,253.4 L590.0,252.8 L590.5,252.0 L591.0,251.1 L591.6,250.1 L592.1,248.8 L592.6,247.4 L593.1,245.6 L593.6,243.5 L594.1,241.0 L594.6,238.0 L595.1,234.5 L595.7,230.6 L596.2,226.3 L596.7,221.9 L597.2,218.0 L597.7,215.2 L598.2,214.2 L598.7,215.3 L599.3,218.2 L599.8,222.3 L600.3,226.8 L600.8,231.3 L601.3,235.4 L601.8,239.0 L602.4,242.1 L602.9,244.6 L603.4,246.8 L603.9,248.6 L604.4,250.1 L604.9,251.4 L605.5,252.4 L610.0,254.9 L615.0,259.9 L620.0,262.9 L625.0,259.9 L628.7,257.4 L637.4,257.9 L647.4,258.7 L657.4,257.4 L664.9,256.2 L669.9,251.2 L670.4,250.7 L670.9,250.2 L671.5,249.6 L672.0,248.9 L672.5,248.2 L673.0,247.4 L673.5,246.5 L674.0,245.4 L674.5,244.2 L675.0,242.9 L675.5,241.4 L676.0,239.7 L676.6,237.8 L677.1,235.6 L677.6,233.1 L678.1,230.4 L678.6,227.4 L679.1,224.1 L679.6,220.5 L680.1,217.0 L680.6,213.4 L681.1,210.3 L681.7,207.7 L682.2,206.0 L682.7,205.5 L683.2,206.1 L683.7,208.0 L684.3,210.8 L684.8,214.3 L685.3,218.1 L685.9,221.9 L686.4,225.6 L686.9,229.1 L687.5,232.2 L688.0,235.0 L688.5,237.5 L689.0,239.7 L689.6,241.7 L690.1,243.4 L690.6,244.9 L691.2,246.2 L694.9,248.7 L702.4,247.9 L708.7,247.9 L712.9,242.4 L716.2,227.5 L719.9,220.5 L723.7,227.5 L726.7,242.4 L729.9,246.2 L733.6,242.9 L737.4,246.2 L742.4,251.2 L747.4,254.9 L751.1,253.7 L756.1,247.4 L756.7,246.3 L757.2,245.1 L757.7,243.6 L758.2,242.0 L758.8,240.0 L759.3,237.8 L759.8,235.2 L760.3,232.1 L760.9,228.6 L761.4,224.4 L761.9,219.6 L762.4,214.1 L763.0,207.9 L763.5,201.2 L764.0,194.1 L764.6,187.4 L765.1,181.6 L765.6,177.6 L766.1,176.2 L766.7,177.7 L767.2,181.9 L767.7,188.0 L768.2,195.2 L768.7,202.7 L769.2,210.0 L769.8,216.7 L770.3,222.6 L770.8,227.9 L771.3,232.4 L771.8,236.3 L772.4,239.6 L772.9,242.4 L777.4,251.2 L782.4,254.4 L792.4,254.9 L804.9,253.7 L812.4,254.9 L826.1,256.9 L839.8,254.9 L854.8,254.9 L876.1,256.2 L889.8,254.4 L904.8,253.9 L919.8,253.9 L932.3,254.9 L942.3,253.7 L952.3,251.9 L959.8,254.4 L967.3,256.2 L970.3,254.9"/>
<path class="sp" id="s-e" d="M100.0,426.2 L152.5,426.2 L155.7,422.4 L157.7,411.2 L160.0,408.7 L162.0,413.7 L164.0,424.9 L167.5,426.7 L173.7,425.7 L180.0,426.7 L188.7,425.7 L194.9,426.7 L207.4,426.2 L219.9,425.7 L229.9,426.4 L242.4,426.2 L247.4,421.2 L251.2,416.2 L253.7,414.9 L256.9,418.6 L261.2,424.9 L267.4,426.1 L289.9,426.0 L314.9,425.8 L327.4,424.5 L339.9,423.7 L352.4,423.9 L359.9,425.1 L367.4,423.8 L389.9,423.4 L414.8,423.3 L424.8,422.2 L434.8,418.9 L444.8,419.6 L454.8,417.1 L461.1,415.1 L467.3,418.8 L477.3,418.7 L484.8,414.9 L487.8,408.7 L491.5,406.9 L496.0,409.4 L499.8,411.9 L504.8,412.4 L508.5,417.4 L514.8,418.1 L524.8,417.9 L530.0,417.4 L537.5,414.4 L545.0,412.4 L552.5,410.4 L558.7,406.1 L562.5,399.9 L567.0,397.4 L570.5,401.1 L574.5,408.6 L578.7,411.1 L583.7,409.9 L588.0,403.6 L588.5,403.2 L589.0,402.7 L589.5,402.1 L590.1,401.5 L590.6,400.7 L591.1,399.8 L591.7,398.7 L592.2,397.4 L592.7,395.9 L593.2,394.1 L593.8,391.8 L594.3,389.2 L594.8,386.1 L595.3,382.5 L595.9,378.6 L596.4,374.6 L596.9,370.9 L597.4,368.3 L598.0,367.4 L598.5,368.4 L599.0,371.2 L599.6,375.1 L600.1,379.4 L600.6,383.5 L601.2,387.3 L601.7,390.5 L602.2,393.3 L602.8,395.5 L603.3,397.4 L603.9,399.0 L604.4,400.3 L604.9,401.4 L605.5,402.4 L610.0,404.4 L615.0,409.4 L620.0,411.1 L625.0,409.9 L628.7,406.9 L637.4,406.9 L647.4,407.4 L657.4,406.9 L664.9,404.9 L669.9,399.9 L670.4,399.4 L670.9,398.9 L671.5,398.4 L672.0,397.8 L672.5,397.1 L673.0,396.3 L673.5,395.5 L674.0,394.5 L674.5,393.4 L675.0,392.2 L675.5,390.8 L676.0,389.2 L676.6,387.4 L677.1,385.4 L677.6,383.1 L678.1,380.5 L678.6,377.7 L679.1,374.7 L679.6,371.4 L680.1,368.1 L680.6,364.8 L681.1,361.9 L681.7,359.5 L682.2,357.9 L682.7,357.4 L683.2,357.9 L683.7,359.3 L684.2,361.4 L684.7,364.1 L685.2,367.0 L685.8,370.1 L686.3,373.0 L686.8,375.7 L687.3,378.3 L687.8,380.6 L688.3,382.6 L688.8,384.4 L689.3,386.0 L689.9,387.4 L690.4,388.7 L690.9,389.8 L691.4,390.8 L691.9,391.6 L692.4,392.4 L696.2,396.9 L702.4,397.4 L708.7,396.1 L712.9,391.1 L716.2,377.4 L719.9,367.4 L723.7,374.9 L726.7,389.9 L729.9,396.1 L733.6,392.9 L737.4,395.4 L742.4,401.1 L747.4,403.6 L751.1,402.4 L756.1,394.9 L756.7,393.8 L757.2,392.6 L757.7,391.3 L758.2,389.7 L758.8,387.8 L759.3,385.7 L759.8,383.3 L760.3,380.4 L760.9,377.0 L761.4,373.1 L761.9,368.5 L762.4,363.3 L763.0,357.4 L763.5,351.0 L764.0,344.4 L764.6,337.9 L765.1,332.5 L765.6,328.7 L766.1,327.4 L766.6,328.7 L767.2,332.4 L767.7,337.9 L768.2,344.3 L768.7,351.1 L769.2,357.6 L769.7,363.7 L770.2,369.1 L770.7,373.9 L771.2,378.0 L771.8,381.6 L772.3,384.7 L772.8,387.3 L773.3,389.6 L773.8,391.6 L774.3,393.3 L774.8,394.8 L775.3,396.1 L775.8,397.2 L776.4,398.2 L776.9,399.1 L777.4,399.9 L782.4,402.9 L792.4,403.6 L804.9,402.4 L812.4,404.4 L826.1,405.4 L839.8,404.9 L854.8,404.4 L867.3,405.4 L876.1,404.9 L889.8,404.4 L904.8,403.6 L919.8,402.9 L932.3,403.6 L942.3,401.1 L952.3,400.4 L959.8,402.4 L967.3,404.4 L970.3,404.4"/>
<path class="sp" id="s-l" d="M973.7,253.7 L985.0,252.9 L1005.0,252.4 L1010.0,251.2 L1020.0,252.9 L1028.7,251.9 L1032.0,244.9 L1034.5,241.9 L1037.5,247.4 L1041.2,254.4 L1050.0,253.7 L1060.0,254.4 L1069.9,254.4 L1084.9,252.9 L1109.9,252.9 L1119.9,251.2 L1124.9,247.4 L1128.7,246.2 L1132.4,249.4 L1137.4,252.9 L1159.9,252.9 L1184.9,252.9 L1199.9,251.9 L1224.9,251.7 L1234.9,252.9 L1244.9,251.7 L1284.8,251.4 L1304.8,250.9 L1312.3,249.9 L1322.3,250.4 L1329.8,248.7 L1339.8,247.9 L1349.8,248.9 L1357.3,247.4 L1362.3,244.4 L1367.8,243.7 L1374.8,246.2 L1382.3,248.9 L1394.8,248.7 L1404.8,247.9 L1431.0,244.9 L1436.0,241.9 L1441.0,240.0 L1446.0,242.4 L1451.0,245.4 L1457.2,246.2 L1462.2,243.7 L1466.0,236.2 L1469.0,227.5 L1472.2,224.5 L1475.5,230.0 L1478.0,240.0 L1482.2,242.4 L1488.5,244.9 L1496.0,246.2 L1503.5,242.9 L1513.4,242.9 L1523.4,243.7 L1533.4,242.9 L1540.9,241.9 L1547.2,238.7 L1550.9,230.0 L1554.7,225.5 L1557.7,224.5 L1560.9,228.7 L1563.9,237.5 L1568.4,240.0 L1575.9,240.0 L1583.4,239.5 L1587.9,236.2 L1590.9,232.0 L1594.7,230.5 L1598.9,233.7 L1602.2,240.0 L1605.9,241.2 L1609.7,239.5 L1614.6,241.2 L1620.9,242.4 L1627.1,241.2 L1632.1,237.5 L1632.7,236.6 L1633.2,235.6 L1633.7,234.4 L1634.3,233.0 L1634.8,231.4 L1635.4,229.5 L1635.9,227.3 L1636.4,224.8 L1637.0,222.1 L1637.5,219.3 L1638.0,216.5 L1638.6,214.2 L1639.1,212.5 L1639.6,212.0 L1640.2,212.5 L1640.7,214.1 L1641.2,216.4 L1641.7,219.2 L1642.2,222.0 L1642.7,224.8 L1643.2,227.4 L1643.8,229.7 L1644.3,231.7 L1644.8,233.4 L1645.3,234.9 L1645.8,236.2 L1646.3,237.3 L1646.8,238.3 L1647.4,239.1 L1647.9,239.8 L1648.4,240.4 L1654.6,242.9 L1665.9,243.7 L1685.9,243.7 L1700.9,244.4 L1710.9,243.9 L1735.8,243.9 L1760.8,243.7 L1785.8,243.4 L1810.8,243.4 L1833.3,243.7 L1840.8,244.4 L1842.3,243.9"/>
<path class="sp" id="s-k" d="M973.7,403.6 L980.0,404.9 L992.5,405.4 L1005.0,404.4 L1012.5,405.4 L1025.0,404.9 L1031.2,401.1 L1035.0,397.4 L1038.0,401.9 L1042.5,404.4 L1060.0,404.4 L1084.9,404.4 L1109.9,404.4 L1119.9,403.6 L1124.9,401.1 L1128.7,400.6 L1133.7,402.9 L1139.9,404.4 L1159.9,404.1 L1174.9,403.9 L1184.9,402.9 L1209.9,402.4 L1234.9,402.4 L1259.9,401.9 L1272.3,401.4 L1284.8,400.4 L1302.3,400.9 L1309.8,399.9 L1327.3,398.6 L1339.8,398.9 L1349.8,397.9 L1357.3,398.4 L1362.3,396.1 L1367.3,394.9 L1374.8,396.1 L1382.3,398.1 L1399.8,397.9 L1431.0,394.9 L1436.0,392.4 L1441.5,391.1 L1447.2,394.4 L1452.2,396.1 L1458.5,394.9 L1463.5,392.4 L1467.2,386.1 L1469.7,381.1 L1472.2,379.4 L1474.7,383.6 L1478.0,389.9 L1483.5,392.4 L1491.0,394.9 L1498.5,395.4 L1504.7,392.9 L1515.9,392.9 L1528.4,394.4 L1535.9,392.9 L1543.4,391.9 L1548.4,388.6 L1552.2,382.4 L1555.4,377.9 L1558.4,377.4 L1561.4,381.1 L1564.7,387.4 L1569.7,391.1 L1575.9,391.1 L1583.4,389.9 L1588.4,386.1 L1592.2,381.9 L1595.4,381.1 L1598.4,384.9 L1602.2,390.4 L1605.9,391.2 L1609.7,389.9 L1614.6,392.5 L1622.1,393.0 L1628.4,391.3 L1632.1,387.6 L1634.6,377.6 L1637.1,369.6 L1639.6,367.6 L1642.1,372.6 L1644.6,383.9 L1648.4,390.2 L1654.6,393.2 L1665.9,394.0 L1685.9,394.4 L1735.8,394.5 L1785.8,394.5 L1835.8,394.5 L1842.3,395.0"/>
<path class="sp" id="s-j" d="M973.7,577.3 L980.0,576.8 L992.5,576.0 L1005.0,576.0 L1011.2,575.3 L1017.5,576.8 L1027.5,576.0 L1031.2,571.0 L1033.0,563.5 L1035.0,561.8 L1037.0,564.8 L1039.5,574.8 L1043.7,576.0 L1060.0,575.3 L1084.9,575.3 L1104.9,574.8 L1117.4,574.3 L1122.4,571.0 L1126.2,567.3 L1128.7,566.0 L1132.4,569.3 L1136.2,572.3 L1142.4,573.5 L1159.9,573.3 L1177.4,572.8 L1184.9,571.8 L1199.9,571.0 L1214.9,570.3 L1222.4,569.8 L1234.9,570.3 L1247.4,569.3 L1259.9,568.8 L1284.8,567.8 L1297.3,566.8 L1309.8,565.8 L1314.8,564.3 L1322.3,565.3 L1329.8,562.8 L1334.8,561.3 L1342.3,563.8 L1352.3,563.8 L1358.6,561.8 L1362.3,557.8 L1367.3,556.0 L1372.3,557.8 L1378.5,562.3 L1384.8,564.3 L1392.3,562.8 L1404.8,561.0 L1431.0,553.8 L1434.7,551.0 L1438.0,548.5 L1441.5,547.8 L1446.0,551.8 L1451.0,556.0 L1456.0,556.8 L1461.0,553.5 L1461.5,553.3 L1462.0,553.0 L1462.5,552.7 L1463.0,552.4 L1463.5,551.9 L1464.0,551.5 L1464.6,550.9 L1465.1,550.3 L1465.6,549.5 L1466.1,548.6 L1466.6,547.5 L1467.1,546.2 L1467.6,544.7 L1468.1,542.9 L1468.6,540.8 L1469.2,538.2 L1469.7,535.4 L1470.2,532.2 L1470.7,529.1 L1471.2,526.3 L1471.7,524.3 L1472.2,523.6 L1472.8,524.3 L1473.3,526.2 L1473.9,528.9 L1474.4,531.8 L1475.0,534.5 L1475.6,537.0 L1476.1,539.1 L1476.7,540.8 L1477.2,542.3 L1481.0,548.5 L1486.0,551.0 L1493.5,554.8 L1499.7,553.5 L1504.7,551.0 L1515.9,551.8 L1528.4,551.0 L1538.4,549.8 L1544.7,546.0 L1545.2,545.8 L1545.7,545.4 L1546.2,545.1 L1546.8,544.7 L1547.3,544.2 L1547.8,543.7 L1548.3,543.1 L1548.8,542.5 L1549.4,541.7 L1549.9,540.9 L1550.4,540.0 L1550.9,538.9 L1551.4,537.7 L1552.0,536.3 L1552.5,534.7 L1553.0,533.0 L1553.5,531.1 L1554.0,528.9 L1554.6,526.7 L1555.1,524.3 L1555.6,522.1 L1556.1,520.0 L1556.6,518.3 L1557.2,517.2 L1557.7,516.8 L1558.2,517.2 L1558.7,518.5 L1559.3,520.4 L1559.8,522.8 L1560.3,525.3 L1560.8,527.9 L1561.4,530.5 L1561.9,532.8 L1562.4,535.0 L1563.0,536.9 L1563.5,538.6 L1564.0,540.1 L1564.5,541.4 L1565.1,542.6 L1565.6,543.6 L1566.1,544.5 L1566.6,545.3 L1567.2,546.0 L1572.2,547.3 L1578.4,545.3 L1584.7,544.3 L1588.4,537.3 L1591.4,528.6 L1594.7,526.1 L1598.4,531.1 L1601.4,543.5 L1604.7,546.0 L1608.4,543.5 L1612.1,547.3 L1617.1,549.8 L1623.4,549.8 L1628.4,546.0 L1628.9,545.4 L1629.4,544.6 L1629.9,543.8 L1630.4,542.8 L1630.9,541.7 L1631.5,540.5 L1632.0,539.0 L1632.5,537.3 L1633.0,535.4 L1633.5,533.1 L1634.0,530.4 L1634.5,527.4 L1635.0,523.8 L1635.6,519.8 L1636.1,515.3 L1636.6,510.4 L1637.1,505.4 L1637.6,500.6 L1638.1,496.5 L1638.6,493.8 L1639.1,492.8 L1639.7,493.8 L1640.2,496.7 L1640.7,500.9 L1641.3,505.8 L1641.8,510.9 L1642.3,515.7 L1642.9,520.2 L1643.4,524.1 L1643.9,527.5 L1644.5,530.4 L1645.0,532.9 L1645.5,535.0 L1646.1,536.9 L1646.6,538.4 L1647.1,539.8 L1650.9,547.3 L1657.1,550.3 L1668.4,551.0 L1685.9,551.8 L1700.9,552.3 L1710.9,551.5 L1735.8,551.8 L1760.8,551.3 L1773.3,550.3 L1785.8,551.3 L1805.8,552.3 L1815.8,551.0 L1825.8,549.8 L1835.8,551.8 L1842.3,549.8"/>
<path class="sp" id="s-i" d="M973.7,923.6 L980.0,920.3 L990.0,921.1 L1000.0,919.3 L1010.0,917.8 L1020.0,917.8 L1026.2,914.8 L1026.7,914.3 L1027.2,913.8 L1027.8,913.1 L1028.3,912.2 L1028.8,911.1 L1029.3,909.7 L1029.8,908.0 L1030.3,905.7 L1030.9,902.7 L1031.4,898.7 L1031.9,893.2 L1032.4,885.9 L1032.9,876.3 L1033.4,865.3 L1033.9,855.3 L1034.5,851.1 L1035.0,866.1 L1035.6,886.4 L1036.1,898.3 L1036.7,904.6 L1037.2,908.1 L1037.8,910.2 L1038.3,911.6 L1038.9,912.5 L1039.4,913.1 L1040.0,913.6 L1043.7,914.8 L1048.7,912.8 L1055.0,915.3 L1060.0,912.3 L1062.9,909.8 L1067.4,913.6 L1074.9,912.8 L1084.9,910.3 L1089.9,908.6 L1099.9,908.6 L1109.9,906.8 L1117.4,905.3 L1117.9,904.9 L1118.4,904.5 L1119.0,903.9 L1119.5,903.3 L1120.0,902.6 L1120.5,901.8 L1121.0,900.8 L1121.5,899.7 L1122.0,898.4 L1122.5,896.9 L1123.0,895.1 L1123.6,892.9 L1124.1,890.4 L1124.6,887.5 L1125.1,884.1 L1125.6,880.3 L1126.1,876.2 L1126.6,872.2 L1127.1,868.7 L1127.7,866.2 L1128.2,865.3 L1128.7,866.2 L1129.2,868.6 L1129.8,871.9 L1130.3,875.8 L1130.8,879.7 L1131.4,883.3 L1131.9,886.5 L1132.4,889.2 L1133.0,891.6 L1133.5,893.6 L1134.0,895.3 L1134.6,896.7 L1135.1,897.9 L1135.6,899.0 L1136.2,899.8 L1141.2,904.3 L1149.9,904.3 L1159.9,901.8 L1169.9,901.1 L1179.9,899.8 L1189.9,898.6 L1199.9,896.1 L1209.9,893.6 L1217.4,888.6 L1222.4,892.3 L1229.9,892.3 L1237.4,891.1 L1242.4,887.8 L1252.4,887.3 L1259.9,886.1 L1268.6,882.3 L1274.8,883.6 L1284.8,882.3 L1292.3,880.3 L1299.8,879.8 L1307.3,875.3 L1312.8,871.1 L1317.3,873.6 L1323.6,872.3 L1328.6,864.8 L1333.6,855.4 L1338.6,863.6 L1343.6,868.6 L1348.6,869.8 L1354.8,866.1 L1355.3,865.7 L1355.8,865.2 L1356.4,864.6 L1356.9,864.0 L1357.4,863.3 L1357.9,862.6 L1358.4,861.7 L1359.0,860.7 L1359.5,859.5 L1360.0,858.2 L1360.5,856.7 L1361.0,855.0 L1361.6,853.1 L1362.1,850.8 L1362.6,848.3 L1363.1,845.4 L1363.7,842.2 L1364.2,838.7 L1364.7,835.1 L1365.2,831.5 L1365.7,828.1 L1366.3,825.3 L1366.8,823.5 L1367.3,822.9 L1367.8,823.3 L1368.3,824.7 L1368.9,826.7 L1369.4,829.1 L1369.9,831.7 L1370.4,834.3 L1370.9,836.8 L1371.5,839.2 L1372.0,841.2 L1372.5,843.1 L1373.0,844.7 L1373.5,846.1 L1377.3,849.9 L1381.0,851.1 L1384.8,859.9 L1389.8,861.1 L1396.0,861.8 L1402.3,859.9 L1417.2,844.9 L1423.5,839.9 L1431.0,832.4 L1431.5,831.8 L1432.0,831.1 L1432.6,830.4 L1433.1,829.5 L1433.6,828.5 L1434.1,827.4 L1434.7,826.2 L1435.2,824.7 L1435.7,823.0 L1436.2,821.1 L1436.8,818.9 L1437.3,816.4 L1437.8,813.7 L1438.3,810.7 L1438.9,807.5 L1439.4,804.4 L1439.9,801.5 L1440.4,799.0 L1441.0,797.4 L1441.5,796.9 L1442.0,797.6 L1442.5,799.5 L1443.1,802.5 L1443.6,806.1 L1444.1,809.9 L1444.6,813.8 L1445.2,817.4 L1445.7,820.8 L1446.2,823.8 L1446.8,826.5 L1447.3,828.8 L1447.8,830.8 L1448.3,832.6 L1448.9,834.1 L1449.4,835.5 L1449.9,836.7 L1450.5,837.7 L1451.0,838.6 L1455.2,841.1 L1459.7,834.9 L1460.2,834.0 L1460.7,833.1 L1461.3,832.0 L1461.8,830.9 L1462.3,829.5 L1462.8,828.0 L1463.3,826.2 L1463.8,824.2 L1464.3,821.9 L1464.8,819.2 L1465.3,816.0 L1465.8,812.3 L1466.4,807.9 L1466.9,802.6 L1467.4,796.4 L1467.9,789.0 L1468.4,780.1 L1468.9,769.7 L1469.4,757.4 L1469.9,743.5 L1470.4,728.3 L1470.9,713.0 L1471.4,699.3 L1472.0,689.7 L1472.5,686.2 L1473.0,689.4 L1473.5,698.3 L1474.0,710.8 L1474.5,724.8 L1475.1,738.5 L1475.6,751.0 L1476.1,762.0 L1476.6,771.3 L1477.1,779.1 L1477.7,785.7 L1478.2,791.1 L1478.7,795.7 L1479.2,799.6 L1479.7,802.8 L1480.3,805.6 L1480.8,807.9 L1481.3,810.0 L1481.8,811.7 L1482.3,813.3 L1482.8,814.6 L1483.4,815.7 L1483.9,816.8 L1484.4,817.7 L1484.9,818.5 L1485.4,819.2 L1486.0,819.9 L1491.0,824.9 L1494.7,832.4 L1498.5,833.6 L1502.2,824.9 L1505.5,818.6 L1511.0,821.1 L1515.9,822.4 L1520.9,824.9 L1524.7,826.9 L1528.4,829.4 L1532.2,823.6 L1534.7,819.4 L1540.9,816.1 L1541.4,815.3 L1542.0,814.3 L1542.5,813.3 L1543.0,812.2 L1543.5,810.9 L1544.0,809.6 L1544.5,808.1 L1545.0,806.4 L1545.5,804.5 L1546.0,802.5 L1546.5,800.1 L1547.0,797.6 L1547.5,794.6 L1548.0,791.4 L1548.6,787.7 L1549.1,783.5 L1549.6,778.8 L1550.1,773.4 L1550.6,767.3 L1551.1,760.5 L1551.6,752.7 L1552.1,744.1 L1552.6,734.6 L1553.1,724.2 L1553.6,713.3 L1554.1,702.0 L1554.6,691.1 L1555.2,681.2 L1555.7,673.2 L1556.2,668.0 L1556.7,666.2 L1557.2,667.9 L1557.7,672.9 L1558.2,680.6 L1558.7,690.0 L1559.2,700.4 L1559.8,711.1 L1560.3,721.5 L1560.8,731.3 L1561.3,740.2 L1561.8,748.3 L1562.3,755.6 L1562.8,762.0 L1563.4,767.6 L1563.9,772.6 L1564.4,777.0 L1564.9,780.9 L1565.4,784.3 L1565.9,787.4 L1568.9,779.9 L1573.4,772.4 L1578.4,768.6 L1582.2,777.4 L1585.9,779.9 L1586.4,776.2 L1587.0,772.2 L1587.5,767.7 L1588.0,762.8 L1588.6,757.3 L1589.1,751.3 L1589.6,744.8 L1590.1,737.7 L1590.7,730.3 L1591.2,722.5 L1591.7,714.6 L1592.3,706.9 L1592.8,699.7 L1593.3,693.5 L1593.8,688.6 L1594.4,685.5 L1594.9,684.4 L1595.4,685.5 L1595.9,688.6 L1596.4,693.4 L1597.0,699.7 L1597.5,706.9 L1598.0,714.7 L1598.5,722.8 L1599.0,730.8 L1599.5,738.5 L1600.0,745.8 L1600.5,752.7 L1601.1,759.0 L1601.6,764.8 L1602.1,770.1 L1602.6,774.9 L1603.1,779.2 L1603.6,783.1 L1604.1,786.7 L1604.7,789.9 L1605.2,787.0 L1605.7,784.0 L1606.3,781.0 L1606.8,778.1 L1607.3,775.8 L1607.9,774.2 L1608.4,773.6 L1608.9,774.2 L1609.5,775.7 L1610.0,778.1 L1610.5,780.9 L1611.0,784.0 L1611.6,787.0 L1612.1,789.9 L1612.6,792.6 L1613.1,795.0 L1613.7,797.1 L1614.2,798.9 L1614.7,800.5 L1615.2,802.0 L1615.8,803.2 L1616.3,804.3 L1616.8,805.2 L1617.3,806.0 L1617.9,806.7 L1618.4,807.4 L1622.1,807.9 L1627.1,803.6 L1627.7,802.2 L1628.2,800.5 L1628.7,798.7 L1629.2,796.7 L1629.7,794.4 L1630.2,791.8 L1630.7,788.8 L1631.2,785.5 L1631.7,781.7 L1632.2,777.4 L1632.7,772.4 L1633.3,766.7 L1633.8,760.0 L1634.3,752.3 L1634.8,743.4 L1635.3,733.0 L1635.8,720.9 L1636.3,707.0 L1636.8,691.3 L1637.3,673.7 L1637.8,654.7 L1638.3,635.1 L1638.9,616.4 L1639.4,600.7 L1639.9,590.0 L1640.4,586.2 L1640.9,590.2 L1641.4,601.3 L1641.9,617.6 L1642.4,637.0 L1642.9,657.3 L1643.4,677.0 L1644.0,695.2 L1644.5,711.5 L1645.0,725.9 L1645.5,738.3 L1646.0,749.1 L1646.5,758.3 L1647.0,766.3 L1647.5,773.1 L1648.0,779.0 L1648.6,784.2 L1649.1,788.7 L1649.6,792.6 L1650.1,796.0 L1650.6,799.0 L1651.1,801.7 L1651.6,804.0 L1652.1,806.1 L1658.4,811.1 L1665.9,812.4 L1675.9,812.9 L1683.4,814.4 L1693.4,813.6 L1703.4,813.6 L1715.8,815.4 L1725.8,813.6 L1735.8,814.4 L1745.8,815.4 L1755.8,816.1 L1765.8,814.4 L1775.8,813.6 L1785.8,814.4 L1795.8,813.6 L1805.8,816.1 L1813.3,811.1 L1820.8,807.4 L1828.3,804.9 L1833.3,811.1 L1838.3,817.4 L1842.0,816.1 L1842.8,803.6"/>
<path class="sp" id="s-h" d="M973.7,1477.4 L977.5,1472.4 L983.7,1469.4 L990.0,1472.4 L997.5,1472.4 L1003.7,1469.9 L1008.7,1467.9 L1013.7,1471.1 L1021.2,1471.1 L1027.5,1467.4 L1028.0,1466.0 L1028.5,1464.3 L1029.0,1462.2 L1029.5,1459.6 L1030.1,1456.2 L1030.6,1451.7 L1031.1,1445.9 L1031.6,1438.0 L1032.1,1427.3 L1032.6,1412.9 L1033.2,1394.2 L1033.7,1372.4 L1034.2,1352.8 L1034.7,1344.5 L1035.2,1370.7 L1035.7,1408.7 L1036.3,1432.3 L1036.8,1445.3 L1037.3,1452.7 L1037.8,1457.2 L1038.3,1460.1 L1038.8,1462.0 L1039.4,1463.4 L1039.9,1464.4 L1040.4,1465.2 L1040.9,1465.8 L1041.4,1466.2 L1041.9,1466.6 L1042.5,1466.9 L1046.2,1462.4 L1048.7,1459.4 L1052.5,1466.1 L1056.2,1466.9 L1060.0,1459.9 L1062.4,1456.9 L1066.2,1462.4 L1069.9,1463.6 L1077.4,1462.9 L1084.9,1459.4 L1092.4,1458.6 L1099.9,1456.1 L1107.4,1454.9 L1114.9,1452.9 L1119.9,1448.7 L1120.4,1447.9 L1121.0,1447.1 L1121.5,1446.1 L1122.0,1445.0 L1122.6,1443.7 L1123.1,1442.1 L1123.6,1440.3 L1124.1,1438.1 L1124.7,1435.6 L1125.2,1432.5 L1125.7,1428.9 L1126.2,1424.7 L1126.8,1419.8 L1127.3,1414.2 L1127.8,1408.2 L1128.3,1402.3 L1128.9,1397.0 L1129.4,1393.3 L1129.9,1391.9 L1130.4,1393.2 L1131.0,1396.6 L1131.5,1401.6 L1132.0,1407.2 L1132.6,1412.9 L1133.1,1418.1 L1133.6,1422.8 L1134.2,1426.9 L1134.7,1430.4 L1135.2,1433.3 L1135.8,1435.8 L1136.3,1437.8 L1136.8,1439.6 L1137.4,1441.1 L1137.9,1442.4 L1142.4,1447.4 L1147.4,1448.7 L1154.9,1445.4 L1162.4,1443.7 L1172.4,1442.4 L1182.4,1439.4 L1192.4,1436.2 L1201.1,1431.9 L1209.9,1429.9 L1216.1,1424.9 L1220.4,1419.9 L1224.9,1424.9 L1229.9,1428.7 L1234.9,1427.9 L1242.4,1424.4 L1252.4,1421.2 L1259.9,1417.9 L1266.1,1412.4 L1274.8,1412.4 L1282.3,1409.9 L1289.8,1407.9 L1299.8,1406.2 L1306.1,1399.9 L1311.1,1392.4 L1316.1,1394.4 L1319.8,1396.9 L1324.8,1392.4 L1325.3,1392.0 L1325.8,1391.6 L1326.4,1391.1 L1326.9,1390.6 L1327.4,1390.0 L1327.9,1389.3 L1328.4,1388.5 L1328.9,1387.6 L1329.4,1386.5 L1329.9,1385.4 L1330.4,1384.0 L1331.0,1382.5 L1331.5,1380.7 L1332.0,1378.8 L1332.5,1376.6 L1333.0,1374.3 L1333.5,1371.8 L1334.0,1369.4 L1334.5,1367.2 L1335.0,1365.3 L1335.6,1364.1 L1336.1,1363.7 L1339.8,1372.4 L1343.6,1379.9 L1348.6,1382.4 L1353.6,1377.4 L1354.1,1376.9 L1354.6,1376.3 L1355.1,1375.7 L1355.6,1375.0 L1356.1,1374.2 L1356.6,1373.3 L1357.1,1372.3 L1357.6,1371.2 L1358.1,1369.9 L1358.6,1368.4 L1359.2,1366.8 L1359.7,1365.0 L1360.2,1362.9 L1360.7,1360.4 L1361.2,1357.7 L1361.7,1354.5 L1362.2,1351.0 L1362.7,1346.9 L1363.2,1342.3 L1363.7,1337.3 L1364.2,1331.9 L1364.8,1326.2 L1365.3,1320.6 L1365.8,1315.5 L1366.3,1311.2 L1366.8,1308.4 L1367.3,1307.5 L1367.8,1308.0 L1368.3,1309.4 L1368.9,1311.6 L1369.4,1314.2 L1369.9,1317.0 L1370.4,1319.8 L1370.9,1322.5 L1371.5,1325.0 L1372.0,1327.2 L1372.5,1329.2 L1373.0,1330.9 L1373.5,1332.5 L1378.5,1337.5 L1381.8,1354.9 L1384.8,1366.2 L1388.5,1367.4 L1392.3,1363.7 L1397.3,1366.9 L1403.5,1362.4 L1417.2,1338.7 L1423.5,1332.5 L1428.5,1325.0 L1429.0,1324.1 L1429.5,1323.1 L1430.1,1322.1 L1430.6,1320.9 L1431.1,1319.5 L1431.6,1318.0 L1432.1,1316.2 L1432.7,1314.3 L1433.2,1312.0 L1433.7,1309.5 L1434.2,1306.5 L1434.7,1303.1 L1435.3,1299.3 L1435.8,1294.9 L1436.3,1289.8 L1436.8,1284.2 L1437.3,1277.9 L1437.9,1271.1 L1438.4,1263.9 L1438.9,1256.8 L1439.4,1250.1 L1439.9,1244.7 L1440.5,1241.1 L1441.0,1239.8 L1441.5,1241.1 L1442.0,1244.7 L1442.5,1250.1 L1443.1,1256.7 L1443.6,1263.9 L1444.1,1271.0 L1444.6,1277.8 L1445.2,1284.0 L1445.7,1289.7 L1446.2,1294.7 L1446.7,1299.1 L1447.2,1302.9 L1447.8,1306.2 L1448.3,1309.2 L1448.8,1311.7 L1449.3,1314.0 L1449.9,1315.9 L1450.4,1317.6 L1450.9,1319.2 L1451.4,1320.5 L1451.9,1321.7 L1452.5,1322.8 L1453.0,1323.7 L1456.5,1325.0 L1457.0,1324.2 L1457.5,1323.3 L1458.0,1322.3 L1458.5,1321.3 L1459.0,1320.1 L1459.5,1318.8 L1460.0,1317.3 L1460.5,1315.7 L1461.0,1313.8 L1461.6,1311.8 L1462.1,1309.4 L1462.6,1306.7 L1463.1,1303.6 L1463.6,1300.1 L1464.1,1296.0 L1464.6,1291.3 L1465.1,1285.8 L1465.6,1279.2 L1466.1,1271.6 L1466.6,1262.4 L1467.1,1251.6 L1467.6,1238.6 L1468.2,1223.2 L1468.7,1205.0 L1469.2,1183.7 L1469.7,1159.5 L1470.2,1133.2 L1470.7,1106.7 L1471.2,1083.1 L1471.7,1066.4 L1472.2,1060.4 L1472.8,1066.5 L1473.3,1083.3 L1473.8,1106.8 L1474.4,1132.6 L1474.9,1157.7 L1475.4,1180.3 L1476.0,1199.9 L1476.5,1216.4 L1477.0,1230.1 L1477.6,1241.6 L1478.1,1251.1 L1478.6,1259.0 L1479.2,1265.6 L1479.7,1271.2 L1482.2,1275.0 L1485.5,1282.5 L1488.0,1300.0 L1490.5,1313.7 L1494.7,1314.5 L1498.5,1314.5 L1499.0,1312.9 L1499.5,1311.0 L1500.1,1308.9 L1500.6,1306.5 L1501.1,1303.7 L1501.7,1300.5 L1502.2,1297.0 L1502.7,1293.1 L1503.3,1289.0 L1503.8,1284.9 L1504.3,1281.1 L1504.9,1277.9 L1505.4,1275.7 L1506.0,1275.0 L1509.0,1283.7 L1513.4,1287.5 L1518.4,1291.2 L1523.4,1290.0 L1527.9,1295.5 L1530.9,1290.0 L1533.4,1281.2 L1538.4,1279.5 L1543.4,1275.0 L1543.9,1272.9 L1544.5,1270.6 L1545.0,1268.1 L1545.5,1265.4 L1546.0,1262.3 L1546.5,1258.9 L1547.0,1255.1 L1547.5,1250.9 L1548.0,1246.1 L1548.5,1240.8 L1549.0,1234.7 L1549.5,1228.0 L1550.0,1220.3 L1550.6,1211.6 L1551.1,1201.7 L1551.6,1190.6 L1552.1,1178.0 L1552.6,1163.8 L1553.1,1147.9 L1553.6,1130.4 L1554.1,1111.4 L1554.6,1091.2 L1555.1,1070.5 L1555.6,1050.3 L1556.2,1032.1 L1556.7,1017.4 L1557.2,1007.8 L1557.7,1004.4 L1558.2,1007.4 L1558.7,1016.1 L1559.2,1029.4 L1559.7,1045.8 L1560.2,1063.9 L1560.7,1082.5 L1561.3,1100.6 L1561.8,1117.7 L1562.3,1133.4 L1562.8,1147.6 L1563.3,1160.2 L1563.8,1171.5 L1564.3,1181.4 L1564.8,1190.2 L1565.3,1198.0 L1565.9,1204.8 L1566.4,1210.8 L1566.9,1216.2 L1567.4,1220.9 L1567.9,1225.2 L1568.4,1228.9 L1568.9,1232.3 L1572.2,1229.8 L1575.9,1219.8 L1579.7,1214.8 L1583.4,1218.6 L1587.2,1214.8 L1587.7,1208.3 L1588.2,1201.2 L1588.7,1193.3 L1589.2,1184.6 L1589.7,1175.1 L1590.3,1164.9 L1590.8,1153.9 L1591.3,1142.2 L1591.8,1130.2 L1592.3,1118.1 L1592.8,1106.3 L1593.3,1095.4 L1593.9,1085.9 L1594.4,1078.6 L1594.9,1074.0 L1595.4,1072.4 L1595.9,1074.2 L1596.5,1079.4 L1597.0,1087.7 L1597.5,1098.2 L1598.1,1110.4 L1598.6,1123.4 L1599.1,1136.6 L1599.7,1149.7 L1600.2,1162.3 L1600.7,1174.0 L1601.3,1185.0 L1601.8,1195.0 L1602.3,1204.1 L1602.9,1212.3 L1603.4,1219.8 L1605.9,1217.3 L1606.5,1211.7 L1607.2,1206.9 L1607.8,1203.5 L1608.4,1202.3 L1608.9,1203.2 L1609.4,1205.6 L1609.9,1209.2 L1610.4,1213.7 L1611.0,1218.6 L1611.5,1223.5 L1612.0,1228.1 L1612.5,1232.5 L1613.0,1236.4 L1613.5,1239.9 L1614.0,1243.0 L1614.5,1245.7 L1615.0,1248.0 L1615.6,1250.1 L1616.1,1251.9 L1616.6,1253.5 L1617.1,1254.9 L1617.6,1256.1 L1618.1,1257.2 L1618.6,1258.2 L1619.1,1259.0 L1619.6,1259.8 L1622.9,1260.3 L1627.1,1254.8 L1627.7,1252.0 L1628.2,1248.9 L1628.7,1245.5 L1629.2,1241.6 L1629.7,1237.3 L1630.2,1232.4 L1630.7,1226.8 L1631.2,1220.6 L1631.7,1213.4 L1632.2,1205.2 L1632.7,1195.8 L1633.3,1184.9 L1633.8,1172.4 L1634.3,1157.8 L1634.8,1140.9 L1635.3,1121.2 L1635.8,1098.4 L1636.3,1072.2 L1636.8,1042.3 L1637.3,1009.1 L1637.8,973.1 L1638.3,936.1 L1638.9,900.9 L1639.4,871.1 L1639.9,850.9 L1640.4,843.7 L1640.9,851.0 L1641.4,871.3 L1641.9,901.3 L1642.5,936.6 L1643.0,973.5 L1643.5,1009.2 L1644.0,1042.0 L1644.5,1071.4 L1645.0,1097.2 L1645.5,1119.4 L1646.1,1138.6 L1646.6,1155.1 L1647.1,1169.3 L1647.6,1181.5 L1648.1,1192.0 L1648.6,1201.1 L1649.2,1209.0 L1649.7,1215.9 L1650.2,1222.0 L1650.7,1227.3 L1651.2,1232.0 L1651.7,1236.2 L1652.3,1239.9 L1652.8,1243.2 L1653.3,1246.2 L1653.8,1248.9 L1654.3,1251.3 L1654.8,1253.5 L1655.4,1255.5 L1655.9,1257.3 L1660.9,1262.3 L1668.4,1263.5 L1675.9,1261.0 L1683.4,1258.5 L1690.9,1262.3 L1698.4,1267.3 L1705.9,1267.8 L1713.3,1266.0 L1720.8,1262.3 L1728.3,1260.3 L1735.8,1262.3 L1745.8,1263.5 L1753.3,1266.8 L1760.8,1262.3 L1768.3,1257.8 L1778.3,1256.8 L1788.3,1257.3 L1797.1,1256.0 L1802.1,1259.8 L1807.1,1261.8 L1813.3,1257.8 L1820.8,1252.3 L1827.0,1246.8 L1830.8,1252.3 L1834.5,1266.0 L1839.5,1267.8 L1842.8,1262.3 L1843.3,1242.3"/>
<path class="sp" id="s-g" d="M973.7,1682.3 L977.5,1679.3 L985.0,1677.8 L992.5,1680.3 L1000.0,1677.8 L1010.0,1677.3 L1020.0,1678.5 L1027.5,1676.0 L1028.0,1675.1 L1028.5,1673.9 L1029.0,1672.4 L1029.5,1670.5 L1030.1,1668.0 L1030.6,1664.7 L1031.1,1660.2 L1031.6,1654.2 L1032.1,1646.1 L1032.7,1635.5 L1033.2,1623.2 L1033.7,1612.0 L1034.2,1607.3 L1034.7,1622.0 L1035.3,1642.9 L1035.8,1655.8 L1036.3,1662.8 L1036.8,1666.8 L1037.3,1669.2 L1037.9,1670.8 L1038.4,1671.8 L1038.9,1672.6 L1039.4,1673.1 L1040.0,1673.5 L1045.0,1672.3 L1050.0,1671.8 L1055.0,1674.8 L1058.7,1672.3 L1061.9,1668.5 L1066.2,1673.5 L1071.2,1673.5 L1079.9,1671.8 L1089.9,1668.5 L1099.9,1666.8 L1109.9,1664.8 L1117.4,1662.3 L1117.9,1662.0 L1118.4,1661.6 L1119.0,1661.2 L1119.5,1660.7 L1120.0,1660.2 L1120.5,1659.5 L1121.0,1658.8 L1121.5,1657.9 L1122.0,1656.9 L1122.5,1655.8 L1123.0,1654.4 L1123.6,1652.8 L1124.1,1650.8 L1124.6,1648.6 L1125.1,1645.9 L1125.6,1642.9 L1126.1,1639.4 L1126.6,1635.8 L1127.1,1632.2 L1127.6,1629.0 L1128.2,1626.9 L1128.7,1626.1 L1129.2,1626.8 L1129.7,1628.9 L1130.2,1632.0 L1130.8,1635.4 L1131.3,1638.9 L1131.8,1642.2 L1132.3,1645.1 L1132.9,1647.7 L1133.4,1649.9 L1133.9,1651.7 L1134.5,1653.3 L1135.0,1654.6 L1135.5,1655.7 L1136.0,1656.7 L1136.6,1657.5 L1137.1,1658.2 L1137.6,1658.8 L1138.1,1659.3 L1138.7,1659.8 L1143.7,1662.3 L1149.9,1661.0 L1159.9,1660.3 L1172.4,1659.3 L1182.4,1656.8 L1192.4,1652.8 L1202.4,1649.8 L1212.4,1647.3 L1219.9,1642.8 L1224.9,1646.8 L1229.9,1648.6 L1234.9,1646.1 L1242.4,1644.8 L1252.4,1644.3 L1262.3,1640.3 L1272.3,1639.3 L1279.8,1639.3 L1287.3,1636.8 L1294.8,1634.8 L1302.3,1633.6 L1308.6,1628.6 L1313.6,1626.1 L1318.6,1630.3 L1323.6,1627.3 L1329.8,1619.8 L1336.1,1613.6 L1341.1,1618.6 L1347.3,1622.8 L1352.3,1621.8 L1357.3,1614.8 L1357.8,1614.2 L1358.4,1613.5 L1358.9,1612.7 L1359.4,1611.8 L1359.9,1610.8 L1360.4,1609.6 L1361.0,1608.3 L1361.5,1606.7 L1362.0,1604.9 L1362.5,1602.9 L1363.1,1600.6 L1363.6,1598.0 L1364.1,1595.1 L1364.6,1591.9 L1365.2,1588.6 L1365.7,1585.3 L1366.2,1582.2 L1366.7,1579.6 L1367.3,1577.9 L1367.8,1577.3 L1368.3,1577.6 L1368.9,1578.5 L1369.4,1579.8 L1369.9,1581.3 L1370.5,1582.9 L1371.0,1584.5 L1371.6,1586.1 L1372.1,1587.5 L1372.6,1588.7 L1373.2,1589.8 L1373.7,1590.8 L1374.3,1591.6 L1374.8,1592.3 L1378.5,1597.3 L1382.3,1607.3 L1384.8,1613.6 L1391.0,1612.3 L1397.3,1613.6 L1403.5,1611.8 L1411.0,1607.3 L1417.2,1599.8 L1424.7,1598.6 L1431.0,1589.8 L1431.5,1589.3 L1432.0,1588.6 L1432.6,1587.9 L1433.1,1587.1 L1433.6,1586.1 L1434.1,1585.0 L1434.7,1583.8 L1435.2,1582.4 L1435.7,1580.7 L1436.2,1578.9 L1436.8,1576.7 L1437.3,1574.3 L1437.8,1571.7 L1438.3,1568.8 L1438.9,1565.7 L1439.4,1562.6 L1439.9,1559.8 L1440.4,1557.5 L1441.0,1555.9 L1441.5,1555.3 L1442.0,1555.9 L1442.5,1557.5 L1443.0,1559.9 L1443.5,1562.8 L1444.0,1566.0 L1444.6,1569.2 L1445.1,1572.2 L1445.6,1575.0 L1446.1,1577.6 L1446.6,1579.9 L1447.1,1581.9 L1447.6,1583.6 L1448.1,1585.2 L1448.6,1586.5 L1449.2,1587.7 L1449.7,1588.7 L1450.2,1589.6 L1450.7,1590.4 L1451.2,1591.1 L1451.7,1591.8 L1452.2,1592.3 L1456.5,1594.8 L1460.5,1588.6 L1461.0,1587.8 L1461.5,1586.9 L1462.0,1585.9 L1462.5,1584.8 L1463.0,1583.5 L1463.5,1582.0 L1464.0,1580.3 L1464.6,1578.4 L1465.1,1576.1 L1465.6,1573.4 L1466.1,1570.3 L1466.6,1566.6 L1467.1,1562.2 L1467.6,1557.0 L1468.1,1550.8 L1468.6,1543.4 L1469.1,1534.6 L1469.7,1524.3 L1470.2,1512.6 L1470.7,1499.8 L1471.2,1486.9 L1471.7,1475.4 L1472.2,1467.3 L1472.7,1464.4 L1473.2,1467.3 L1473.8,1475.1 L1474.3,1486.1 L1474.8,1498.3 L1475.4,1510.1 L1475.9,1520.9 L1476.4,1530.3 L1476.9,1538.2 L1477.5,1544.9 L1478.0,1550.4 L1478.5,1555.1 L1479.0,1558.9 L1479.6,1562.1 L1480.1,1564.9 L1480.6,1567.2 L1481.2,1569.2 L1481.7,1570.9 L1482.2,1572.3 L1486.0,1576.1 L1489.7,1586.1 L1494.7,1590.3 L1498.5,1587.3 L1502.2,1574.8 L1505.5,1571.1 L1509.7,1573.6 L1515.9,1576.1 L1522.2,1574.8 L1527.2,1579.8 L1530.9,1581.1 L1534.7,1574.8 L1540.9,1572.3 L1545.9,1564.8 L1546.4,1563.3 L1547.0,1561.7 L1547.5,1559.8 L1548.0,1557.7 L1548.5,1555.4 L1549.0,1552.7 L1549.5,1549.7 L1550.0,1546.3 L1550.5,1542.5 L1551.0,1538.2 L1551.5,1533.2 L1552.1,1527.7 L1552.6,1521.4 L1553.1,1514.4 L1553.6,1506.6 L1554.1,1498.2 L1554.6,1489.2 L1555.1,1480.0 L1555.6,1471.1 L1556.1,1463.0 L1556.7,1456.4 L1557.2,1452.1 L1557.7,1450.6 L1558.2,1452.2 L1558.7,1456.5 L1559.3,1463.2 L1559.8,1471.3 L1560.3,1480.3 L1560.8,1489.3 L1561.4,1498.1 L1561.9,1506.3 L1562.4,1513.8 L1563.0,1520.5 L1563.5,1526.5 L1564.0,1531.7 L1564.5,1536.4 L1565.1,1540.4 L1565.6,1544.0 L1566.1,1547.1 L1566.6,1549.9 L1567.2,1552.3 L1573.4,1551.8 L1580.9,1551.1 L1585.9,1548.6 L1586.4,1546.9 L1587.0,1545.1 L1587.5,1543.1 L1588.0,1540.8 L1588.5,1538.3 L1589.1,1535.6 L1589.6,1532.6 L1590.1,1529.2 L1590.6,1525.6 L1591.2,1521.7 L1591.7,1517.6 L1592.2,1513.3 L1592.8,1509.0 L1593.3,1504.7 L1593.8,1500.8 L1594.3,1497.3 L1594.9,1494.7 L1595.4,1493.0 L1595.9,1492.4 L1596.4,1493.1 L1597.0,1495.2 L1597.5,1498.5 L1598.0,1502.8 L1598.6,1507.7 L1599.1,1512.9 L1599.7,1518.3 L1600.2,1523.5 L1600.7,1528.5 L1601.3,1533.3 L1601.8,1537.6 L1602.3,1541.7 L1602.9,1545.3 L1603.4,1548.6 L1607.2,1547.4 L1610.4,1544.9 L1613.4,1552.3 L1617.1,1561.1 L1620.9,1567.3 L1624.6,1566.1 L1628.9,1559.8 L1629.4,1558.0 L1629.9,1555.9 L1630.5,1553.5 L1631.0,1550.8 L1631.5,1547.7 L1632.0,1544.1 L1632.5,1540.0 L1633.1,1535.3 L1633.6,1529.8 L1634.1,1523.4 L1634.6,1515.9 L1635.2,1507.2 L1635.7,1497.1 L1636.2,1485.4 L1636.7,1472.0 L1637.3,1457.0 L1637.8,1440.6 L1638.3,1423.6 L1638.8,1407.2 L1639.3,1393.3 L1639.9,1383.8 L1640.4,1380.4 L1640.9,1383.9 L1641.4,1393.7 L1642.0,1408.1 L1642.5,1425.1 L1643.0,1442.6 L1643.5,1459.6 L1644.1,1475.1 L1644.6,1488.9 L1645.1,1501.0 L1645.6,1511.4 L1646.1,1520.3 L1646.7,1528.0 L1647.2,1534.6 L1647.7,1540.2 L1648.2,1545.1 L1648.8,1549.3 L1649.3,1553.0 L1649.8,1556.2 L1650.3,1559.0 L1650.9,1561.4 L1651.4,1563.6 L1657.1,1569.8 L1663.4,1571.8 L1670.9,1571.1 L1677.1,1569.8 L1683.4,1571.1 L1693.4,1573.6 L1703.4,1573.6 L1713.3,1573.6 L1720.8,1572.3 L1728.3,1573.6 L1738.3,1574.8 L1745.8,1577.3 L1754.6,1577.8 L1763.3,1576.1 L1773.3,1574.3 L1783.3,1576.1 L1793.3,1574.8 L1805.8,1576.1 L1815.8,1574.8 L1823.3,1572.8 L1828.3,1572.3 L1833.3,1577.3 L1838.3,1580.3 L1842.8,1577.3 L1843.3,1566.8"/>
</g>
<g id="axes" shape-rendering="crispEdges" fill="#000">
<rect x="91" y="22" width="11" height="1711"/>
<rect x="96" y="1727" width="1749" height="12"/>
<rect x="149" y="1714" width="11" height="14"/>
<rect x="325" y="1714" width="11" height="14"/>
<rect x="499" y="1714" width="11" height="14"/>
<rect x="673" y="1714" width="11" height="14"/>
<rect x="849" y="1714" width="11" height="14"/>
<rect x="1023" y="1714" width="11" height="14"/>
<rect x="1199" y="1714" width="11" height="14"/>
<rect x="1373" y="1714" width="11" height="14"/>
<rect x="1547" y="1714" width="11" height="14"/>
<rect x="1723" y="1714" width="11" height="14"/>
<rect x="1129.2" y="1064" width="10.9" height="146"/>
<rect x="1122" y="1064" width="25" height="11"/>
<rect x="1122" y="1199" width="25" height="11"/>
</g>
<g id="ticklabels">
<text class="tk" x="153.4" y="1797">600</text>
<text class="tk" x="329.5" y="1797">900</text>
<text class="tk" x="503.4" y="1797">1200</text>
<text class="tk" x="677.5" y="1797">1500</text>
<text class="tk" x="853.5" y="1797">1800</text>
<text class="tk" x="1027.4" y="1797">600</text>
<text class="tk" x="1203.4" y="1797">900</text>
<text class="tk" x="1377.4" y="1797">1200</text>
<text class="tk" x="1551.5" y="1797">1500</text>
<text class="tk" x="1727.4" y="1797">1800</text>
<text class="tk" style="text-anchor:start" x="1163" y="1152">20 kcts</text>
</g>
<g id="titles">
<text class="ax" x="279.5" y="1870">Raman Shift <tspan dx="3.7">[cm</tspan><tspan font-size="38.5" dy="-32.5">-1</tspan><tspan dy="32.5" dx="-1.5">]</tspan></text>
<text class="ax" x="1125.5" y="1874.2">Raman Shift <tspan dx="3.7">[cm</tspan><tspan font-size="38.5" dy="-32.5">-1</tspan><tspan dy="32.5" dx="-1.5">]</tspan></text>
<text class="ax" style="letter-spacing:0.93px" transform="translate(65.7,1070.5) rotate(-90)">Intensity <tspan font-weight="normal">[a.u.]</tspan></text>
<text class="tt" x="971 1067.5 1095.5" y="158.8">A|B</text>
</g>
<g id="labels">
<text class="lb" x="833" y="228">(f)</text>
<text class="lb" x="833" y="383">(e)</text>
<text class="lb" x="833" y="552">(d)</text>
<text class="lb" x="833" y="799">(c)</text>
<text class="lb" x="833" y="1211">(b)</text>
<text class="lb" x="833" y="1519">(a)</text>
<text class="lb" x="1709" y="219.5">(l)</text>
<text class="lb" x="1709" y="371">(k)</text>
<text class="lb" x="1709" y="526">(j)</text>
<text class="lb" x="1709" y="791">(i)</text>
<text class="lb" x="1709" y="1236">(h)</text>
<text class="lb" x="1709" y="1549">(g)</text>
</g>
</svg>
</body>
</html>
